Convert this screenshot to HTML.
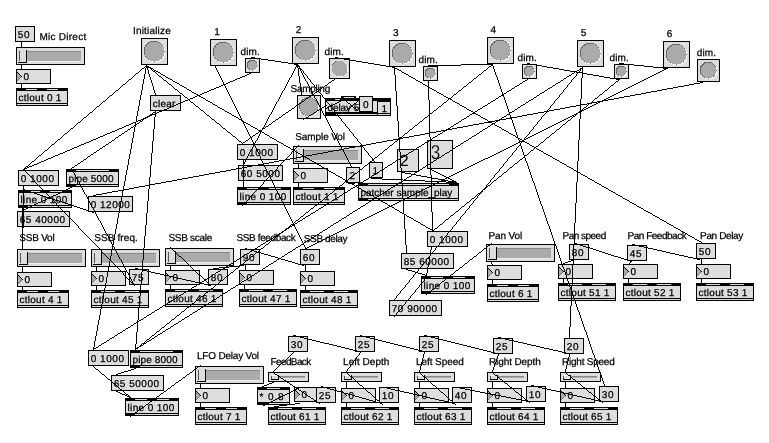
<!DOCTYPE html>
<html><head><meta charset="utf-8"><title>Max patch</title>
<style>
html,body{margin:0;padding:0;background:#fff;overflow:hidden;}
svg{display:block;}
text{font-family:"Liberation Sans",sans-serif;font-size:10px;fill:#000;stroke:#000;stroke-width:0.25px;text-rendering:geometricPrecision;}
svg{will-change:transform;}
</style></head><body>
<svg width="769" height="443" viewBox="0 0 769 443">
<rect width="769" height="443" fill="#fff"/>
<g shape-rendering="crispEdges">
<rect x="15" y="26" width="20" height="16" fill="#000"/>
<rect x="16" y="27" width="18" height="14" fill="#dddddd"/>
<text x="17.7" y="38" style="letter-spacing:0.778px;">50</text>
<text x="39.5" y="40" style="letter-spacing:0.251px;">Mic Direct</text>
<rect x="16" y="47" width="69" height="18" fill="#000"/>
<rect x="17" y="48" width="67" height="16" fill="#dddddd"/>
<rect x="20" y="51" width="61" height="10" fill="#aaaaaa"/>
<rect x="20" y="51" width="61" height="1" fill="#888"/>
<rect x="20" y="61" width="61" height="1" fill="#eee"/>
<rect x="18" y="50" width="9" height="13" fill="#000"/>
<rect x="18" y="50" width="8" height="12" fill="#dddddd"/>
<rect x="19" y="51" width="1" height="10" fill="#555"/>
<rect x="16" y="69" width="35" height="15" fill="#000"/>
<rect x="17" y="70" width="33" height="13" fill="#dddddd"/>
<polygon points="17,72 21.5,76.5 17,81" fill="#aaaaaa"/>
<line x1="17.5" y1="72.5" x2="21.5" y2="76.5" stroke="#000" stroke-linecap="square"/>
<line x1="20.5" y1="77.5" x2="17.5" y2="80.5" stroke="#777" stroke-linecap="square"/>
<text x="23.5" y="80">0</text>
<rect x="16" y="88" width="52" height="18" fill="#000"/>
<rect x="17" y="91" width="50" height="12" fill="#dddddd"/>
<rect x="17" y="104" width="50" height="1" fill="#dddddd"/>
<rect x="26" y="89" width="11" height="1" fill="#dddddd"/>
<rect x="47" y="89" width="11" height="1" fill="#dddddd"/>
<text x="18.5" y="101" style="letter-spacing:0.258px;">ctlout 0 1</text>
<text x="133" y="34" style="letter-spacing:0.175px;">Initialize</text>
<rect x="141" y="38" width="27" height="27" fill="#000"/>
<rect x="142" y="39" width="25" height="25" fill="#dddddd"/>
<circle cx="155.0" cy="52.0" r="10.5" fill="#fff"/>
<circle cx="154.1" cy="51.1" r="10.5" fill="#666"/>
<circle cx="154.5" cy="51.5" r="9.9" fill="#aaaaaa"/>
<rect x="150" y="95" width="31" height="16" fill="#000"/>
<rect x="151" y="96" width="29" height="14" fill="#dddddd"/>
<text x="152.7" y="107" style="letter-spacing:0.257px;">clear</text>
<text x="214.3" y="35">1</text>
<rect x="210" y="39" width="27" height="27" fill="#000"/>
<rect x="211" y="40" width="25" height="25" fill="#dddddd"/>
<circle cx="224.0" cy="53.0" r="10.5" fill="#fff"/>
<circle cx="223.1" cy="52.1" r="10.5" fill="#666"/>
<circle cx="223.5" cy="52.5" r="9.9" fill="#aaaaaa"/>
<text x="240.5" y="55" style="letter-spacing:0.103px;">dim.</text>
<rect x="245" y="58" width="15" height="15" fill="#000"/>
<rect x="246" y="59" width="13" height="13" fill="#dddddd"/>
<circle cx="253.0" cy="66.0" r="5.5" fill="#fff"/>
<circle cx="252.1" cy="65.1" r="5.5" fill="#666"/>
<circle cx="252.5" cy="65.5" r="4.9" fill="#aaaaaa"/>
<text x="295.7" y="33">2</text>
<rect x="292" y="37" width="27" height="27" fill="#000"/>
<rect x="293" y="38" width="25" height="25" fill="#dddddd"/>
<circle cx="306.0" cy="51.0" r="10.5" fill="#fff"/>
<circle cx="305.1" cy="50.1" r="10.5" fill="#666"/>
<circle cx="305.5" cy="50.5" r="9.9" fill="#aaaaaa"/>
<text x="324.5" y="55" style="letter-spacing:0.103px;">dim.</text>
<rect x="329" y="58" width="21" height="21" fill="#000"/>
<rect x="330" y="59" width="19" height="19" fill="#dddddd"/>
<polygon points="336.95,61.6 343.25,61.6 347.6,65.95 347.6,72.25 343.25,76.6 336.95,76.6 332.6,72.25 332.6,65.95" fill="#fff"/>
<polygon points="335.85,60.5 342.15,60.5 346.5,64.85 346.5,71.15 342.15,75.5 335.85,75.5 331.5,71.15 331.5,64.85" fill="#666"/>
<polygon points="336.55,61.2 342.85,61.2 347.2,65.55 347.2,71.85 342.85,76.2 336.55,76.2 332.2,71.85 332.2,65.55" fill="#aaaaaa"/>
<text x="393" y="35.5">3</text>
<rect x="389" y="40" width="27" height="27" fill="#000"/>
<rect x="390" y="41" width="25" height="25" fill="#dddddd"/>
<circle cx="403.0" cy="54.0" r="10.5" fill="#fff"/>
<circle cx="402.1" cy="53.1" r="10.5" fill="#666"/>
<circle cx="402.5" cy="53.5" r="9.9" fill="#aaaaaa"/>
<text x="418.5" y="62.8" style="letter-spacing:0.103px;">dim.</text>
<rect x="423" y="66" width="15" height="15" fill="#000"/>
<rect x="424" y="67" width="13" height="13" fill="#dddddd"/>
<circle cx="431.0" cy="74.0" r="5.5" fill="#fff"/>
<circle cx="430.1" cy="73.1" r="5.5" fill="#666"/>
<circle cx="430.5" cy="73.5" r="4.9" fill="#aaaaaa"/>
<text x="490.5" y="32.5">4</text>
<rect x="487" y="37" width="27" height="27" fill="#000"/>
<rect x="488" y="38" width="25" height="25" fill="#dddddd"/>
<circle cx="501.0" cy="51.0" r="10.5" fill="#fff"/>
<circle cx="500.1" cy="50.1" r="10.5" fill="#666"/>
<circle cx="500.5" cy="50.5" r="9.9" fill="#aaaaaa"/>
<text x="517.5" y="61" style="letter-spacing:0.103px;">dim.</text>
<rect x="522" y="64" width="15" height="15" fill="#000"/>
<rect x="523" y="65" width="13" height="13" fill="#dddddd"/>
<circle cx="530.0" cy="72.0" r="5.5" fill="#fff"/>
<circle cx="529.1" cy="71.1" r="5.5" fill="#666"/>
<circle cx="529.5" cy="71.5" r="4.9" fill="#aaaaaa"/>
<text x="580.8" y="35.6">5</text>
<rect x="577" y="40" width="27" height="27" fill="#000"/>
<rect x="578" y="41" width="25" height="25" fill="#dddddd"/>
<circle cx="591.0" cy="54.0" r="10.5" fill="#fff"/>
<circle cx="590.1" cy="53.1" r="10.5" fill="#666"/>
<circle cx="590.5" cy="53.5" r="9.9" fill="#aaaaaa"/>
<text x="609.5" y="61" style="letter-spacing:0.103px;">dim.</text>
<rect x="614" y="64" width="15" height="15" fill="#000"/>
<rect x="615" y="65" width="13" height="13" fill="#dddddd"/>
<circle cx="622.0" cy="72.0" r="5.5" fill="#fff"/>
<circle cx="621.1" cy="71.1" r="5.5" fill="#666"/>
<circle cx="621.5" cy="71.5" r="4.9" fill="#aaaaaa"/>
<text x="666.8" y="37">6</text>
<rect x="663" y="41" width="27" height="27" fill="#000"/>
<rect x="664" y="42" width="25" height="25" fill="#dddddd"/>
<circle cx="677.0" cy="55.0" r="10.5" fill="#fff"/>
<circle cx="676.1" cy="54.1" r="10.5" fill="#666"/>
<circle cx="676.5" cy="54.5" r="9.9" fill="#aaaaaa"/>
<text x="696.8" y="56" style="letter-spacing:0.103px;">dim.</text>
<rect x="697" y="59" width="23" height="23" fill="#000"/>
<rect x="698" y="60" width="21" height="21" fill="#dddddd"/>
<circle cx="709.0" cy="71.0" r="8.5" fill="#fff"/>
<circle cx="708.1" cy="70.1" r="8.5" fill="#666"/>
<circle cx="708.5" cy="70.5" r="7.9" fill="#aaaaaa"/>
<text x="290.5" y="91.5" style="letter-spacing:-0.284px;">Sampling</text>
<rect x="297" y="95" width="24" height="24" fill="#000"/>
<rect x="298" y="96" width="22" height="22" fill="#dddddd"/>
<circle cx="309.5" cy="107.5" r="9.6" fill="#fff"/>
<circle cx="308.6" cy="106.6" r="9.6" fill="#666"/>
<circle cx="309.0" cy="107.0" r="9.0" fill="#aaaaaa"/>
<rect x="325" y="98" width="66" height="18" fill="#000"/>
<rect x="341" y="96" width="15" height="2" fill="#000"/>
<rect x="344" y="97" width="10" height="1" fill="#dddddd"/>
<rect x="326" y="101" width="34" height="11" fill="#dddddd"/>
<rect x="373" y="101" width="4" height="11" fill="#dddddd"/>
<rect x="378" y="102" width="12" height="11" fill="#dddddd"/>
<rect x="335" y="99" width="5" height="1" fill="#dddddd"/>
<rect x="336" y="114" width="41" height="1" fill="#dddddd"/>
<rect x="378" y="114" width="12" height="1" fill="#dddddd"/>
<text x="327.5" y="110.5" style="letter-spacing:-0.091px;">delay 5</text>
<rect x="359" y="96" width="14" height="16" fill="#000"/>
<rect x="360" y="97" width="12" height="14" fill="#dddddd"/>
<text x="363" y="108">0</text>
<text x="381.5" y="111.5">1</text>
<rect x="18" y="170" width="41" height="16" fill="#000"/>
<rect x="19" y="171" width="39" height="14" fill="#dddddd"/>
<text x="20.7" y="182" style="letter-spacing:0.543px;">0 1000</text>
<rect x="66" y="169" width="53" height="18" fill="#000"/>
<rect x="67" y="172" width="51" height="12" fill="#dddddd"/>
<rect x="76" y="185" width="42" height="1" fill="#dddddd"/>
<rect x="76" y="170" width="33" height="1" fill="#dddddd"/>
<text x="68.5" y="182" style="letter-spacing:0.134px;">pipe 5000</text>
<rect x="18" y="190" width="54" height="18" fill="#000"/>
<rect x="19" y="193" width="52" height="12" fill="#dddddd"/>
<rect x="28" y="206" width="43" height="1" fill="#dddddd"/>
<rect x="28" y="191" width="12" height="1" fill="#dddddd"/>
<rect x="50" y="191" width="12" height="1" fill="#dddddd"/>
<text x="20.5" y="203" style="letter-spacing:0.370px;">line 0 100</text>
<rect x="88" y="196" width="45" height="16" fill="#000"/>
<rect x="89" y="197" width="43" height="14" fill="#dddddd"/>
<text x="90.7" y="208" style="letter-spacing:0.509px;">0 12000</text>
<rect x="17" y="211" width="53" height="16" fill="#000"/>
<rect x="18" y="212" width="51" height="14" fill="#dddddd"/>
<text x="19.7" y="223" style="letter-spacing:0.528px;">65 40000</text>
<rect x="237" y="144" width="41" height="16" fill="#000"/>
<rect x="238" y="145" width="39" height="14" fill="#dddddd"/>
<text x="239.7" y="156" style="letter-spacing:0.543px;">0 1000</text>
<rect x="238" y="165" width="45" height="16" fill="#000"/>
<rect x="239" y="166" width="43" height="14" fill="#dddddd"/>
<text x="240.7" y="177" style="letter-spacing:0.526px;">60 5000</text>
<rect x="237" y="187" width="54" height="18" fill="#000"/>
<rect x="238" y="190" width="52" height="12" fill="#dddddd"/>
<rect x="247" y="203" width="43" height="1" fill="#dddddd"/>
<rect x="247" y="188" width="12" height="1" fill="#dddddd"/>
<rect x="269" y="188" width="12" height="1" fill="#dddddd"/>
<text x="239.5" y="200" style="letter-spacing:0.370px;">line 0 100</text>
<text x="295.3" y="139.6" style="letter-spacing:-0.098px;">Sample Vol</text>
<rect x="293" y="146" width="69" height="18" fill="#000"/>
<rect x="294" y="147" width="67" height="16" fill="#dddddd"/>
<rect x="297" y="150" width="61" height="10" fill="#aaaaaa"/>
<rect x="297" y="150" width="61" height="1" fill="#888"/>
<rect x="297" y="160" width="61" height="1" fill="#eee"/>
<rect x="295" y="149" width="9" height="13" fill="#000"/>
<rect x="295" y="149" width="8" height="12" fill="#dddddd"/>
<rect x="296" y="150" width="1" height="10" fill="#555"/>
<rect x="293" y="168" width="35" height="15" fill="#000"/>
<rect x="294" y="169" width="33" height="13" fill="#dddddd"/>
<polygon points="294,171 298.5,175.5 294,180" fill="#aaaaaa"/>
<line x1="294.5" y1="171.5" x2="298.5" y2="175.5" stroke="#000" stroke-linecap="square"/>
<line x1="297.5" y1="176.5" x2="294.5" y2="179.5" stroke="#777" stroke-linecap="square"/>
<text x="300.5" y="179">0</text>
<rect x="293" y="187" width="52" height="18" fill="#000"/>
<rect x="294" y="190" width="50" height="12" fill="#dddddd"/>
<rect x="294" y="203" width="50" height="1" fill="#dddddd"/>
<rect x="303" y="188" width="11" height="1" fill="#dddddd"/>
<rect x="324" y="188" width="11" height="1" fill="#dddddd"/>
<text x="295.5" y="200" style="letter-spacing:0.258px;">ctlout 1 1</text>
<rect x="346" y="167" width="14" height="16" fill="#000"/>
<rect x="347" y="168" width="12" height="14" fill="#dddddd"/>
<text x="349.5" y="179">2</text>
<rect x="369" y="162" width="14" height="16" fill="#000"/>
<rect x="370" y="163" width="12" height="14" fill="#dddddd"/>
<text x="372.5" y="174">1</text>
<rect x="358" y="183" width="101" height="18" fill="#000"/>
<rect x="359" y="186" width="99" height="12" fill="#dddddd"/>
<rect x="368" y="199" width="90" height="1" fill="#dddddd"/>
<rect x="368" y="184" width="81" height="1" fill="#dddddd"/>
<text x="360.5" y="196" style="letter-spacing:-0.032px;">patcher sample_play</text>
<rect x="397" y="149" width="22" height="23" fill="#000"/>
<rect x="398" y="150" width="20" height="21" fill="#dddddd"/>
<text x="399.8" y="165.5" style="font-size:16px;stroke-width:0;">2</text>
<rect x="427" y="140" width="26" height="29" fill="#000"/>
<rect x="428" y="141" width="24" height="27" fill="#dddddd"/>
<text transform="translate(430.8 159.2) scale(0.85 1)" style="font-size:20px;stroke-width:0.25;stroke:#dddddd;">3</text>
<text x="19.2" y="240.6" style="letter-spacing:-0.198px;">SSB Vol</text>
<rect x="17" y="249" width="69" height="18" fill="#000"/>
<rect x="18" y="250" width="67" height="16" fill="#dddddd"/>
<rect x="21" y="253" width="61" height="10" fill="#aaaaaa"/>
<rect x="21" y="253" width="61" height="1" fill="#888"/>
<rect x="21" y="263" width="61" height="1" fill="#eee"/>
<rect x="19" y="252" width="9" height="13" fill="#000"/>
<rect x="19" y="252" width="8" height="12" fill="#dddddd"/>
<rect x="20" y="253" width="1" height="10" fill="#555"/>
<rect x="17" y="272" width="35" height="15" fill="#000"/>
<rect x="18" y="273" width="33" height="13" fill="#dddddd"/>
<polygon points="18,275 22.5,279.5 18,284" fill="#aaaaaa"/>
<line x1="18.5" y1="275.5" x2="22.5" y2="279.5" stroke="#000" stroke-linecap="square"/>
<line x1="21.5" y1="280.5" x2="18.5" y2="283.5" stroke="#777" stroke-linecap="square"/>
<text x="24.5" y="283">0</text>
<rect x="17" y="290" width="52" height="18" fill="#000"/>
<rect x="18" y="293" width="50" height="12" fill="#dddddd"/>
<rect x="18" y="306" width="50" height="1" fill="#dddddd"/>
<rect x="27" y="291" width="11" height="1" fill="#dddddd"/>
<rect x="48" y="291" width="11" height="1" fill="#dddddd"/>
<text x="19.5" y="303" style="letter-spacing:0.258px;">ctlout 4 1</text>
<text x="94.2" y="241" style="letter-spacing:0.113px;">SSB freq.</text>
<rect x="91" y="249" width="69" height="18" fill="#000"/>
<rect x="92" y="250" width="67" height="16" fill="#dddddd"/>
<rect x="95" y="253" width="61" height="10" fill="#aaaaaa"/>
<rect x="95" y="253" width="61" height="1" fill="#888"/>
<rect x="95" y="263" width="61" height="1" fill="#eee"/>
<rect x="93" y="252" width="9" height="13" fill="#000"/>
<rect x="93" y="252" width="8" height="12" fill="#dddddd"/>
<rect x="94" y="253" width="1" height="10" fill="#555"/>
<rect x="91" y="271" width="35" height="15" fill="#000"/>
<rect x="92" y="272" width="33" height="13" fill="#dddddd"/>
<polygon points="92,274 96.5,278.5 92,283" fill="#aaaaaa"/>
<line x1="92.5" y1="274.5" x2="96.5" y2="278.5" stroke="#000" stroke-linecap="square"/>
<line x1="95.5" y1="279.5" x2="92.5" y2="282.5" stroke="#777" stroke-linecap="square"/>
<text x="98.5" y="282">0</text>
<rect x="129" y="269" width="20" height="16" fill="#000"/>
<rect x="130" y="270" width="18" height="14" fill="#dddddd"/>
<text x="131.7" y="281" style="letter-spacing:0.778px;">75</text>
<rect x="91" y="290" width="58" height="18" fill="#000"/>
<rect x="92" y="293" width="56" height="12" fill="#dddddd"/>
<rect x="92" y="306" width="56" height="1" fill="#dddddd"/>
<rect x="101" y="291" width="14" height="1" fill="#dddddd"/>
<rect x="125" y="291" width="14" height="1" fill="#dddddd"/>
<text x="93.5" y="303" style="letter-spacing:0.276px;">ctlout 45 1</text>
<text x="168.5" y="240.6" style="letter-spacing:-0.304px;">SSB scale</text>
<rect x="165" y="248" width="69" height="18" fill="#000"/>
<rect x="166" y="249" width="67" height="16" fill="#dddddd"/>
<rect x="169" y="252" width="61" height="10" fill="#aaaaaa"/>
<rect x="169" y="252" width="61" height="1" fill="#888"/>
<rect x="169" y="262" width="61" height="1" fill="#eee"/>
<rect x="167" y="251" width="9" height="13" fill="#000"/>
<rect x="167" y="251" width="8" height="12" fill="#dddddd"/>
<rect x="168" y="252" width="1" height="10" fill="#555"/>
<rect x="165" y="270" width="35" height="15" fill="#000"/>
<rect x="166" y="271" width="33" height="13" fill="#dddddd"/>
<polygon points="166,273 170.5,277.5 166,282" fill="#aaaaaa"/>
<line x1="166.5" y1="273.5" x2="170.5" y2="277.5" stroke="#000" stroke-linecap="square"/>
<line x1="169.5" y1="278.5" x2="166.5" y2="281.5" stroke="#777" stroke-linecap="square"/>
<text x="172.5" y="281">0</text>
<rect x="208" y="269" width="20" height="16" fill="#000"/>
<rect x="209" y="270" width="18" height="14" fill="#dddddd"/>
<text x="210.7" y="281" style="letter-spacing:0.778px;">80</text>
<rect x="165" y="289" width="58" height="18" fill="#000"/>
<rect x="166" y="292" width="56" height="12" fill="#dddddd"/>
<rect x="166" y="305" width="56" height="1" fill="#dddddd"/>
<rect x="175" y="290" width="14" height="1" fill="#dddddd"/>
<rect x="199" y="290" width="14" height="1" fill="#dddddd"/>
<text x="167.5" y="302" style="letter-spacing:0.276px;">ctlout 46 1</text>
<text x="236.5" y="240.6" style="letter-spacing:-0.379px;">SSB feedback</text>
<rect x="240" y="249" width="20" height="16" fill="#000"/>
<rect x="241" y="250" width="18" height="14" fill="#dddddd"/>
<text x="242.7" y="261" style="letter-spacing:0.778px;">90</text>
<rect x="239" y="270" width="35" height="15" fill="#000"/>
<rect x="240" y="271" width="33" height="13" fill="#dddddd"/>
<polygon points="240,273 244.5,277.5 240,282" fill="#aaaaaa"/>
<line x1="240.5" y1="273.5" x2="244.5" y2="277.5" stroke="#000" stroke-linecap="square"/>
<line x1="243.5" y1="278.5" x2="240.5" y2="281.5" stroke="#777" stroke-linecap="square"/>
<text x="246.5" y="281">0</text>
<rect x="239" y="289" width="58" height="18" fill="#000"/>
<rect x="240" y="292" width="56" height="12" fill="#dddddd"/>
<rect x="240" y="305" width="56" height="1" fill="#dddddd"/>
<rect x="249" y="290" width="14" height="1" fill="#dddddd"/>
<rect x="273" y="290" width="14" height="1" fill="#dddddd"/>
<text x="241.5" y="302" style="letter-spacing:0.276px;">ctlout 47 1</text>
<text x="303.8" y="241.5" style="letter-spacing:-0.374px;">SSB delay</text>
<rect x="300" y="249" width="20" height="16" fill="#000"/>
<rect x="301" y="250" width="18" height="14" fill="#dddddd"/>
<text x="302.7" y="261" style="letter-spacing:0.778px;">60</text>
<rect x="300" y="271" width="35" height="15" fill="#000"/>
<rect x="301" y="272" width="33" height="13" fill="#dddddd"/>
<polygon points="301,274 305.5,278.5 301,283" fill="#aaaaaa"/>
<line x1="301.5" y1="274.5" x2="305.5" y2="278.5" stroke="#000" stroke-linecap="square"/>
<line x1="304.5" y1="279.5" x2="301.5" y2="282.5" stroke="#777" stroke-linecap="square"/>
<text x="307.5" y="282">0</text>
<rect x="300" y="290" width="58" height="18" fill="#000"/>
<rect x="301" y="293" width="56" height="12" fill="#dddddd"/>
<rect x="301" y="306" width="56" height="1" fill="#dddddd"/>
<rect x="310" y="291" width="14" height="1" fill="#dddddd"/>
<rect x="334" y="291" width="14" height="1" fill="#dddddd"/>
<text x="302.5" y="303" style="letter-spacing:0.276px;">ctlout 48 1</text>
<rect x="427" y="231" width="41" height="16" fill="#000"/>
<rect x="428" y="232" width="39" height="14" fill="#dddddd"/>
<text x="429.7" y="243" style="letter-spacing:0.543px;">0 1000</text>
<rect x="401" y="253" width="53" height="16" fill="#000"/>
<rect x="402" y="254" width="51" height="14" fill="#dddddd"/>
<text x="403.7" y="265" style="letter-spacing:0.528px;">85 60000</text>
<rect x="421" y="276" width="54" height="18" fill="#000"/>
<rect x="422" y="279" width="52" height="12" fill="#dddddd"/>
<rect x="431" y="292" width="43" height="1" fill="#dddddd"/>
<rect x="431" y="277" width="12" height="1" fill="#dddddd"/>
<rect x="453" y="277" width="12" height="1" fill="#dddddd"/>
<text x="423.5" y="289" style="letter-spacing:0.370px;">line 0 100</text>
<rect x="389" y="300" width="53" height="16" fill="#000"/>
<rect x="390" y="301" width="51" height="14" fill="#dddddd"/>
<text x="391.7" y="312" style="letter-spacing:0.528px;">70 90000</text>
<text x="488.5" y="238.6" style="letter-spacing:-0.129px;">Pan Vol</text>
<rect x="486" y="244" width="69" height="18" fill="#000"/>
<rect x="487" y="245" width="67" height="16" fill="#dddddd"/>
<rect x="490" y="248" width="61" height="10" fill="#aaaaaa"/>
<rect x="490" y="248" width="61" height="1" fill="#888"/>
<rect x="490" y="258" width="61" height="1" fill="#eee"/>
<rect x="488" y="247" width="9" height="13" fill="#000"/>
<rect x="488" y="247" width="8" height="12" fill="#dddddd"/>
<rect x="489" y="248" width="1" height="10" fill="#555"/>
<rect x="487" y="265" width="35" height="15" fill="#000"/>
<rect x="488" y="266" width="33" height="13" fill="#dddddd"/>
<polygon points="488,268 492.5,272.5 488,277" fill="#aaaaaa"/>
<line x1="488.5" y1="268.5" x2="492.5" y2="272.5" stroke="#000" stroke-linecap="square"/>
<line x1="491.5" y1="273.5" x2="488.5" y2="276.5" stroke="#777" stroke-linecap="square"/>
<text x="494.5" y="276">0</text>
<rect x="487" y="284" width="52" height="18" fill="#000"/>
<rect x="488" y="287" width="50" height="12" fill="#dddddd"/>
<rect x="488" y="300" width="50" height="1" fill="#dddddd"/>
<rect x="497" y="285" width="11" height="1" fill="#dddddd"/>
<rect x="518" y="285" width="11" height="1" fill="#dddddd"/>
<text x="489.5" y="297" style="letter-spacing:0.258px;">ctlout 6 1</text>
<text x="562.5" y="238.6" style="letter-spacing:-0.514px;">Pan speed</text>
<rect x="569" y="244" width="20" height="16" fill="#000"/>
<rect x="570" y="245" width="18" height="14" fill="#dddddd"/>
<text x="571.7" y="256" style="letter-spacing:0.778px;">80</text>
<rect x="558" y="264" width="35" height="15" fill="#000"/>
<rect x="559" y="265" width="33" height="13" fill="#dddddd"/>
<polygon points="559,267 563.5,271.5 559,276" fill="#aaaaaa"/>
<line x1="559.5" y1="267.5" x2="563.5" y2="271.5" stroke="#000" stroke-linecap="square"/>
<line x1="562.5" y1="272.5" x2="559.5" y2="275.5" stroke="#777" stroke-linecap="square"/>
<text x="565.5" y="275">0</text>
<rect x="558" y="283" width="58" height="18" fill="#000"/>
<rect x="559" y="286" width="56" height="12" fill="#dddddd"/>
<rect x="559" y="299" width="56" height="1" fill="#dddddd"/>
<rect x="568" y="284" width="14" height="1" fill="#dddddd"/>
<rect x="592" y="284" width="14" height="1" fill="#dddddd"/>
<text x="560.5" y="296" style="letter-spacing:0.276px;">ctlout 51 1</text>
<text x="627.5" y="238.6" style="letter-spacing:-0.480px;">Pan Feedback</text>
<rect x="627" y="245" width="20" height="16" fill="#000"/>
<rect x="628" y="246" width="18" height="14" fill="#dddddd"/>
<text x="629.7" y="257" style="letter-spacing:0.778px;">45</text>
<rect x="623" y="264" width="35" height="15" fill="#000"/>
<rect x="624" y="265" width="33" height="13" fill="#dddddd"/>
<polygon points="624,267 628.5,271.5 624,276" fill="#aaaaaa"/>
<line x1="624.5" y1="267.5" x2="628.5" y2="271.5" stroke="#000" stroke-linecap="square"/>
<line x1="627.5" y1="272.5" x2="624.5" y2="275.5" stroke="#777" stroke-linecap="square"/>
<text x="630.5" y="275">0</text>
<rect x="623" y="283" width="58" height="18" fill="#000"/>
<rect x="624" y="286" width="56" height="12" fill="#dddddd"/>
<rect x="624" y="299" width="56" height="1" fill="#dddddd"/>
<rect x="633" y="284" width="14" height="1" fill="#dddddd"/>
<rect x="657" y="284" width="14" height="1" fill="#dddddd"/>
<text x="625.5" y="296" style="letter-spacing:0.276px;">ctlout 52 1</text>
<text x="700.1" y="238.6" style="letter-spacing:-0.367px;">Pan Delay</text>
<rect x="696" y="243" width="20" height="16" fill="#000"/>
<rect x="697" y="244" width="18" height="14" fill="#dddddd"/>
<text x="698.7" y="255" style="letter-spacing:0.778px;">50</text>
<rect x="696" y="264" width="35" height="15" fill="#000"/>
<rect x="697" y="265" width="33" height="13" fill="#dddddd"/>
<polygon points="697,267 701.5,271.5 697,276" fill="#aaaaaa"/>
<line x1="697.5" y1="267.5" x2="701.5" y2="271.5" stroke="#000" stroke-linecap="square"/>
<line x1="700.5" y1="272.5" x2="697.5" y2="275.5" stroke="#777" stroke-linecap="square"/>
<text x="703.5" y="275">0</text>
<rect x="696" y="283" width="58" height="18" fill="#000"/>
<rect x="697" y="286" width="56" height="12" fill="#dddddd"/>
<rect x="697" y="299" width="56" height="1" fill="#dddddd"/>
<rect x="706" y="284" width="14" height="1" fill="#dddddd"/>
<rect x="730" y="284" width="14" height="1" fill="#dddddd"/>
<text x="698.5" y="296" style="letter-spacing:0.276px;">ctlout 53 1</text>
<rect x="88" y="350" width="41" height="16" fill="#000"/>
<rect x="89" y="351" width="39" height="14" fill="#dddddd"/>
<text x="90.7" y="362" style="letter-spacing:0.543px;">0 1000</text>
<rect x="130" y="350" width="53" height="18" fill="#000"/>
<rect x="131" y="353" width="51" height="12" fill="#dddddd"/>
<rect x="140" y="366" width="42" height="1" fill="#dddddd"/>
<rect x="140" y="351" width="33" height="1" fill="#dddddd"/>
<text x="132.5" y="363" style="letter-spacing:0.134px;">pipe 8000</text>
<rect x="111" y="375" width="53" height="16" fill="#000"/>
<rect x="112" y="376" width="51" height="14" fill="#dddddd"/>
<text x="113.7" y="387" style="letter-spacing:0.528px;">65 50000</text>
<rect x="125" y="398" width="54" height="18" fill="#000"/>
<rect x="126" y="401" width="52" height="12" fill="#dddddd"/>
<rect x="135" y="414" width="43" height="1" fill="#dddddd"/>
<rect x="135" y="399" width="12" height="1" fill="#dddddd"/>
<rect x="157" y="399" width="12" height="1" fill="#dddddd"/>
<text x="127.5" y="411" style="letter-spacing:0.370px;">line 0 100</text>
<text x="197" y="358.8" style="letter-spacing:-0.206px;">LFO Delay Vol</text>
<rect x="195" y="366" width="69" height="18" fill="#000"/>
<rect x="196" y="367" width="67" height="16" fill="#dddddd"/>
<rect x="199" y="370" width="61" height="10" fill="#aaaaaa"/>
<rect x="199" y="370" width="61" height="1" fill="#888"/>
<rect x="199" y="380" width="61" height="1" fill="#eee"/>
<rect x="197" y="369" width="9" height="13" fill="#000"/>
<rect x="197" y="369" width="8" height="12" fill="#dddddd"/>
<rect x="198" y="370" width="1" height="10" fill="#555"/>
<rect x="195" y="388" width="35" height="15" fill="#000"/>
<rect x="196" y="389" width="33" height="13" fill="#dddddd"/>
<polygon points="196,391 200.5,395.5 196,400" fill="#aaaaaa"/>
<line x1="196.5" y1="391.5" x2="200.5" y2="395.5" stroke="#000" stroke-linecap="square"/>
<line x1="199.5" y1="396.5" x2="196.5" y2="399.5" stroke="#777" stroke-linecap="square"/>
<text x="202.5" y="399">0</text>
<rect x="195" y="407" width="52" height="18" fill="#000"/>
<rect x="196" y="410" width="50" height="12" fill="#dddddd"/>
<rect x="196" y="423" width="50" height="1" fill="#dddddd"/>
<rect x="205" y="408" width="11" height="1" fill="#dddddd"/>
<rect x="226" y="408" width="11" height="1" fill="#dddddd"/>
<text x="197.5" y="420" style="letter-spacing:0.258px;">ctlout 7 1</text>
<rect x="288" y="336" width="20" height="16" fill="#000"/>
<rect x="289" y="337" width="18" height="14" fill="#dddddd"/>
<text x="290.7" y="348" style="letter-spacing:0.778px;">30</text>
<text x="270.5" y="365" style="letter-spacing:-0.617px;">FeedBack</text>
<rect x="268" y="372" width="41" height="10" fill="#000"/>
<rect x="269" y="373" width="39" height="8" fill="#dddddd"/>
<rect x="279" y="376" width="26" height="1" fill="#888"/>
<rect x="279" y="377" width="26" height="1" fill="#aaaaaa"/>
<rect x="271" y="375" width="8" height="5" fill="#000"/>
<rect x="271" y="375" width="7" height="4" fill="#dddddd"/>
<rect x="272" y="375" width="6" height="1" fill="#fff"/>
<rect x="271" y="376" width="1" height="3" fill="#555"/>
<rect x="257" y="387" width="33" height="18" fill="#000"/>
<rect x="258" y="390" width="31" height="12" fill="#dddddd"/>
<rect x="267" y="403" width="22" height="1" fill="#dddddd"/>
<rect x="267" y="388" width="13" height="1" fill="#dddddd"/>
<text x="259.5" y="400" style="letter-spacing:0.882px;">* 0.8</text>
<rect x="294" y="387" width="23" height="15" fill="#000"/>
<rect x="295" y="388" width="21" height="13" fill="#dddddd"/>
<polygon points="295,390 299.5,394.5 295,399" fill="#aaaaaa"/>
<line x1="295.5" y1="390.5" x2="299.5" y2="394.5" stroke="#000" stroke-linecap="square"/>
<line x1="298.5" y1="395.5" x2="295.5" y2="398.5" stroke="#777" stroke-linecap="square"/>
<text x="301.5" y="398">0</text>
<rect x="316" y="387" width="20" height="16" fill="#000"/>
<rect x="317" y="388" width="18" height="14" fill="#dddddd"/>
<text x="318.7" y="399" style="letter-spacing:0.778px;">25</text>
<rect x="268" y="407" width="58" height="18" fill="#000"/>
<rect x="269" y="410" width="56" height="12" fill="#dddddd"/>
<rect x="269" y="423" width="56" height="1" fill="#dddddd"/>
<rect x="278" y="408" width="14" height="1" fill="#dddddd"/>
<rect x="302" y="408" width="14" height="1" fill="#dddddd"/>
<text x="270.5" y="420" style="letter-spacing:0.276px;">ctlout 61 1</text>
<rect x="355" y="336" width="20" height="16" fill="#000"/>
<rect x="356" y="337" width="18" height="14" fill="#dddddd"/>
<text x="357.7" y="348" style="letter-spacing:0.778px;">25</text>
<text x="343.1" y="365" style="letter-spacing:0.007px;">Left Depth</text>
<rect x="341" y="372" width="41" height="10" fill="#000"/>
<rect x="342" y="373" width="39" height="8" fill="#dddddd"/>
<rect x="352" y="376" width="26" height="1" fill="#888"/>
<rect x="352" y="377" width="26" height="1" fill="#aaaaaa"/>
<rect x="344" y="375" width="8" height="5" fill="#000"/>
<rect x="344" y="375" width="7" height="4" fill="#dddddd"/>
<rect x="345" y="375" width="6" height="1" fill="#fff"/>
<rect x="344" y="376" width="1" height="3" fill="#555"/>
<rect x="341" y="388" width="35" height="15" fill="#000"/>
<rect x="342" y="389" width="33" height="13" fill="#dddddd"/>
<polygon points="342,391 346.5,395.5 342,400" fill="#aaaaaa"/>
<line x1="342.5" y1="391.5" x2="346.5" y2="395.5" stroke="#000" stroke-linecap="square"/>
<line x1="345.5" y1="396.5" x2="342.5" y2="399.5" stroke="#777" stroke-linecap="square"/>
<text x="348.5" y="399">0</text>
<rect x="379" y="387" width="20" height="16" fill="#000"/>
<rect x="380" y="388" width="18" height="14" fill="#dddddd"/>
<text x="381.7" y="399" style="letter-spacing:0.778px;">10</text>
<rect x="341" y="407" width="58" height="18" fill="#000"/>
<rect x="342" y="410" width="56" height="12" fill="#dddddd"/>
<rect x="342" y="423" width="56" height="1" fill="#dddddd"/>
<rect x="351" y="408" width="14" height="1" fill="#dddddd"/>
<rect x="375" y="408" width="14" height="1" fill="#dddddd"/>
<text x="343.5" y="420" style="letter-spacing:0.276px;">ctlout 62 1</text>
<rect x="419" y="336" width="20" height="16" fill="#000"/>
<rect x="420" y="337" width="18" height="14" fill="#dddddd"/>
<text x="421.7" y="348" style="letter-spacing:0.778px;">25</text>
<text x="416" y="365" style="letter-spacing:-0.074px;">Left Speed</text>
<rect x="414" y="372" width="41" height="10" fill="#000"/>
<rect x="415" y="373" width="39" height="8" fill="#dddddd"/>
<rect x="425" y="376" width="26" height="1" fill="#888"/>
<rect x="425" y="377" width="26" height="1" fill="#aaaaaa"/>
<rect x="417" y="375" width="8" height="5" fill="#000"/>
<rect x="417" y="375" width="7" height="4" fill="#dddddd"/>
<rect x="418" y="375" width="6" height="1" fill="#fff"/>
<rect x="417" y="376" width="1" height="3" fill="#555"/>
<rect x="414" y="388" width="35" height="15" fill="#000"/>
<rect x="415" y="389" width="33" height="13" fill="#dddddd"/>
<polygon points="415,391 419.5,395.5 415,400" fill="#aaaaaa"/>
<line x1="415.5" y1="391.5" x2="419.5" y2="395.5" stroke="#000" stroke-linecap="square"/>
<line x1="418.5" y1="396.5" x2="415.5" y2="399.5" stroke="#777" stroke-linecap="square"/>
<text x="421.5" y="399">0</text>
<rect x="452" y="387" width="20" height="16" fill="#000"/>
<rect x="453" y="388" width="18" height="14" fill="#dddddd"/>
<text x="454.7" y="399" style="letter-spacing:0.778px;">40</text>
<rect x="414" y="407" width="58" height="18" fill="#000"/>
<rect x="415" y="410" width="56" height="12" fill="#dddddd"/>
<rect x="415" y="423" width="56" height="1" fill="#dddddd"/>
<rect x="424" y="408" width="14" height="1" fill="#dddddd"/>
<rect x="448" y="408" width="14" height="1" fill="#dddddd"/>
<text x="416.5" y="420" style="letter-spacing:0.276px;">ctlout 63 1</text>
<rect x="493" y="338" width="20" height="16" fill="#000"/>
<rect x="494" y="339" width="18" height="14" fill="#dddddd"/>
<text x="495.7" y="350" style="letter-spacing:0.778px;">25</text>
<text x="489" y="365" style="letter-spacing:-0.110px;">Right Depth</text>
<rect x="487" y="372" width="41" height="10" fill="#000"/>
<rect x="488" y="373" width="39" height="8" fill="#dddddd"/>
<rect x="498" y="376" width="26" height="1" fill="#888"/>
<rect x="498" y="377" width="26" height="1" fill="#aaaaaa"/>
<rect x="490" y="375" width="8" height="5" fill="#000"/>
<rect x="490" y="375" width="7" height="4" fill="#dddddd"/>
<rect x="491" y="375" width="6" height="1" fill="#fff"/>
<rect x="490" y="376" width="1" height="3" fill="#555"/>
<rect x="487" y="388" width="35" height="15" fill="#000"/>
<rect x="488" y="389" width="33" height="13" fill="#dddddd"/>
<polygon points="488,391 492.5,395.5 488,400" fill="#aaaaaa"/>
<line x1="488.5" y1="391.5" x2="492.5" y2="395.5" stroke="#000" stroke-linecap="square"/>
<line x1="491.5" y1="396.5" x2="488.5" y2="399.5" stroke="#777" stroke-linecap="square"/>
<text x="494.5" y="399">0</text>
<rect x="526" y="386" width="20" height="16" fill="#000"/>
<rect x="527" y="387" width="18" height="14" fill="#dddddd"/>
<text x="528.7" y="398" style="letter-spacing:0.778px;">10</text>
<rect x="487" y="407" width="58" height="18" fill="#000"/>
<rect x="488" y="410" width="56" height="12" fill="#dddddd"/>
<rect x="488" y="423" width="56" height="1" fill="#dddddd"/>
<rect x="497" y="408" width="14" height="1" fill="#dddddd"/>
<rect x="521" y="408" width="14" height="1" fill="#dddddd"/>
<text x="489.5" y="420" style="letter-spacing:0.276px;">ctlout 64 1</text>
<rect x="564" y="338" width="20" height="16" fill="#000"/>
<rect x="565" y="339" width="18" height="14" fill="#dddddd"/>
<text x="566.7" y="350" style="letter-spacing:0.778px;">20</text>
<text x="562" y="365" style="letter-spacing:-0.234px;">Right Speed</text>
<rect x="560" y="372" width="41" height="10" fill="#000"/>
<rect x="561" y="373" width="39" height="8" fill="#dddddd"/>
<rect x="571" y="376" width="26" height="1" fill="#888"/>
<rect x="571" y="377" width="26" height="1" fill="#aaaaaa"/>
<rect x="563" y="375" width="8" height="5" fill="#000"/>
<rect x="563" y="375" width="7" height="4" fill="#dddddd"/>
<rect x="564" y="375" width="6" height="1" fill="#fff"/>
<rect x="563" y="376" width="1" height="3" fill="#555"/>
<rect x="560" y="388" width="35" height="15" fill="#000"/>
<rect x="561" y="389" width="33" height="13" fill="#dddddd"/>
<polygon points="561,391 565.5,395.5 561,400" fill="#aaaaaa"/>
<line x1="561.5" y1="391.5" x2="565.5" y2="395.5" stroke="#000" stroke-linecap="square"/>
<line x1="564.5" y1="396.5" x2="561.5" y2="399.5" stroke="#777" stroke-linecap="square"/>
<text x="567.5" y="399">0</text>
<rect x="599" y="386" width="20" height="16" fill="#000"/>
<rect x="600" y="387" width="18" height="14" fill="#dddddd"/>
<text x="601.7" y="398" style="letter-spacing:0.778px;">30</text>
<rect x="560" y="407" width="58" height="18" fill="#000"/>
<rect x="561" y="410" width="56" height="12" fill="#dddddd"/>
<rect x="561" y="423" width="56" height="1" fill="#dddddd"/>
<rect x="570" y="408" width="14" height="1" fill="#dddddd"/>
<rect x="594" y="408" width="14" height="1" fill="#dddddd"/>
<text x="562.5" y="420" style="letter-spacing:0.276px;">ctlout 65 1</text>
</g>
<g stroke="#000" stroke-width="1" fill="none" shape-rendering="crispEdges">
<path d="M23 169.5h1M24 168.5h1M25 167.5h1M26 166.5h2M28 165.5h1M29 164.5h1M30 163.5h1M31 162.5h1M32 161.5h2M34 160.5h1M35 159.5h1M36 158.5h1M37 157.5h1M38 156.5h1M39 155.5h2M41 154.5h1M42 153.5h1M43 152.5h1M44 151.5h1M45 150.5h2M47 149.5h1M48 148.5h1M49 147.5h1M50 146.5h1M51 145.5h1M52 144.5h2M54 143.5h1M55 142.5h1M56 141.5h1M57 140.5h1M58 139.5h2M60 138.5h1M61 137.5h1M62 136.5h1M63 135.5h1M64 134.5h1M65 133.5h2M67 132.5h1M68 131.5h1M69 130.5h1M70 129.5h1M71 128.5h2M73 127.5h1M74 126.5h1M75 125.5h1M76 124.5h1M77 123.5h1M78 122.5h2M80 121.5h1M81 120.5h1M82 119.5h1M83 118.5h1M84 117.5h2M86 116.5h1M87 115.5h1M88 114.5h1M89 113.5h1M90 112.5h2M92 111.5h1M93 110.5h1M94 109.5h1M95 108.5h1M96 107.5h1M97 106.5h2M99 105.5h1M100 104.5h1M101 103.5h1M102 102.5h1M103 101.5h2M105 100.5h1M106 99.5h1M107 98.5h1M108 97.5h1M109 96.5h1M110 95.5h2M112 94.5h1M113 93.5h1M114 92.5h1M115 91.5h1M116 90.5h2M118 89.5h1M119 88.5h1M120 87.5h1M121 86.5h1M122 85.5h1M123 84.5h2M125 83.5h1M126 82.5h1M127 81.5h1M128 80.5h1M129 79.5h2M131 78.5h1M132 77.5h1M133 76.5h1M134 75.5h1M135 74.5h1M136 73.5h2M138 72.5h1M139 71.5h1M140 70.5h1M141 69.5h1M142 68.5h2M144 67.5h1M145 66.5h1M146 65.5h1"/>
<path d="M146.5 65v3M145.5 68v6M144.5 74v5M143.5 79v5M142.5 84v6M141.5 90v5M140.5 95v5M139.5 100v6M138.5 106v5M137.5 111v5M136.5 116v6M135.5 122v5M134.5 127v5M133.5 132v6M132.5 138v5M131.5 143v6M130.5 149v5M129.5 154v5M128.5 159v6M127.5 165v5M126.5 170v5M125.5 175v6M124.5 181v5M123.5 186v5M122.5 191v6M121.5 197v5M120.5 202v6M119.5 208v5M118.5 213v5M117.5 218v6M116.5 224v5M115.5 229v5M114.5 234v6M113.5 240v5M112.5 245v5M111.5 250v6M110.5 256v5M109.5 261v5M108.5 266v6M107.5 272v5M106.5 277v6M105.5 283v5M104.5 288v5M103.5 293v6M102.5 299v5M101.5 304v5M100.5 309v6M99.5 315v5M98.5 320v5M97.5 325v6M96.5 331v5M95.5 336v5M94.5 341v6M93.5 347v3"/>
<path d="M146.5 65v2M147.5 67v3M148.5 70v4M149.5 74v3M150.5 77v3M151.5 80v3M152.5 83v3M153.5 86v4M154.5 90v3M155.5 93v2"/>
<path d="M146 65.5h1M147 66.5h1M148 67.5h2M150 68.5h1M151 69.5h1M152 70.5h1M153 71.5h2M155 72.5h1M156 73.5h1M157 74.5h1M158 75.5h1M159 76.5h2M161 77.5h1M162 78.5h1M163 79.5h1M164 80.5h2M166 81.5h1M167 82.5h1M168 83.5h1M169 84.5h2M171 85.5h1M172 86.5h1M173 87.5h1M174 88.5h1M175 89.5h2M177 90.5h1M178 91.5h1M179 92.5h1M180 93.5h2M182 94.5h1M183 95.5h1M184 96.5h1M185 97.5h2M187 98.5h1M188 99.5h1M189 100.5h1M190 101.5h1M191 102.5h2M193 103.5h1M194 104.5h1M195 105.5h1M196 106.5h2M198 107.5h1M199 108.5h1M200 109.5h1M201 110.5h2M203 111.5h1M204 112.5h1M205 113.5h1M206 114.5h1M207 115.5h2M209 116.5h1M210 117.5h1M211 118.5h1M212 119.5h2M214 120.5h1M215 121.5h1M216 122.5h1M217 123.5h2M219 124.5h1M220 125.5h1M221 126.5h1M222 127.5h1M223 128.5h2M225 129.5h1M226 130.5h1M227 131.5h1M228 132.5h2M230 133.5h1M231 134.5h1M232 135.5h1M233 136.5h2M235 137.5h1M236 138.5h1M237 139.5h1M238 140.5h1M239 141.5h2M241 142.5h1M242 143.5h1"/>
<path d="M146 65.5h1M147 66.5h2M149 67.5h2M151 68.5h2M153 69.5h1M154 70.5h2M156 71.5h2M158 72.5h2M160 73.5h1M161 74.5h2M163 75.5h2M165 76.5h1M166 77.5h2M168 78.5h2M170 79.5h2M172 80.5h1M173 81.5h2M175 82.5h2M177 83.5h2M179 84.5h1M180 85.5h2M182 86.5h2M184 87.5h2M186 88.5h1M187 89.5h2M189 90.5h2M191 91.5h1M192 92.5h2M194 93.5h2M196 94.5h2M198 95.5h1M199 96.5h2M201 97.5h2M203 98.5h2M205 99.5h1M206 100.5h2M208 101.5h2M210 102.5h2M212 103.5h1M213 104.5h2M215 105.5h2M217 106.5h1M218 107.5h2M220 108.5h2M222 109.5h2M224 110.5h1M225 111.5h2M227 112.5h2M229 113.5h2M231 114.5h1M232 115.5h2M234 116.5h2M236 117.5h2M238 118.5h1M239 119.5h2M241 120.5h2M243 121.5h1M244 122.5h2M246 123.5h2M248 124.5h2M250 125.5h1M251 126.5h2M253 127.5h2M255 128.5h2M257 129.5h1M258 130.5h2M260 131.5h2M262 132.5h2M264 133.5h1M265 134.5h2M267 135.5h2M269 136.5h1M270 137.5h2M272 138.5h2M274 139.5h2M276 140.5h1M277 141.5h2M279 142.5h2M281 143.5h2M283 144.5h1M284 145.5h2M286 146.5h2M288 147.5h2M290 148.5h1M291 149.5h2M293 150.5h2M295 151.5h1M296 152.5h2M298 153.5h2M300 154.5h2M302 155.5h1M303 156.5h2M305 157.5h2M307 158.5h2M309 159.5h1M310 160.5h2M312 161.5h2M314 162.5h2M316 163.5h1M317 164.5h2M319 165.5h2M321 166.5h1M322 167.5h2M324 168.5h2M326 169.5h2M328 170.5h1M329 171.5h2M331 172.5h2M333 173.5h2M335 174.5h1M336 175.5h2M338 176.5h2M340 177.5h2M342 178.5h1M343 179.5h2M345 180.5h2M347 181.5h1M348 182.5h2M350 183.5h2M352 184.5h2M354 185.5h1M355 186.5h2M357 187.5h2M359 188.5h2M361 189.5h1M362 190.5h2M364 191.5h2M366 192.5h2M368 193.5h1M369 194.5h2M371 195.5h2M373 196.5h1M374 197.5h2M376 198.5h2M378 199.5h2M380 200.5h1M381 201.5h2M383 202.5h2M385 203.5h2M387 204.5h1M388 205.5h2M390 206.5h2M392 207.5h2M394 208.5h1M395 209.5h2M397 210.5h2M399 211.5h1M400 212.5h2M402 213.5h2M404 214.5h2M406 215.5h1M407 216.5h2M409 217.5h2M411 218.5h2M413 219.5h1M414 220.5h2M416 221.5h2M418 222.5h2M420 223.5h1M421 224.5h2M423 225.5h2M425 226.5h1M426 227.5h2M428 228.5h2M430 229.5h2M432 230.5h1"/>
<path d="M71 168.5h1M72 167.5h2M74 166.5h1M75 165.5h2M77 164.5h1M78 163.5h2M80 162.5h1M81 161.5h2M83 160.5h1M84 159.5h2M86 158.5h1M87 157.5h1M88 156.5h2M90 155.5h1M91 154.5h2M93 153.5h1M94 152.5h2M96 151.5h1M97 150.5h2M99 149.5h1M100 148.5h2M102 147.5h1M103 146.5h2M105 145.5h1M106 144.5h2M108 143.5h1M109 142.5h2M111 141.5h1M112 140.5h2M114 139.5h1M115 138.5h1M116 137.5h2M118 136.5h1M119 135.5h2M121 134.5h1M122 133.5h2M124 132.5h1M125 131.5h2M127 130.5h1M128 129.5h2M130 128.5h1M131 127.5h2M133 126.5h1M134 125.5h2M136 124.5h1M137 123.5h2M139 122.5h1M140 121.5h2M142 120.5h1M143 119.5h1M144 118.5h2M146 117.5h1M147 116.5h2M149 115.5h1M150 114.5h2M152 113.5h1M153 112.5h2M155 111.5h1"/>
<path d="M155.5 111v6M154.5 117v12M153.5 129v12M152.5 141v12M151.5 153v12M150.5 165v12M149.5 177v12M148.5 189v12M147.5 201v12M146.5 213v12M145.5 225v11M144.5 236v12M143.5 248v12M142.5 260v12M141.5 272v12M140.5 284v12M139.5 296v12M138.5 308v12M137.5 320v12M136.5 332v12M135.5 344v6"/>
<path d="M23 169.5h2M25 168.5h2M27 167.5h2M29 166.5h3M32 165.5h2M34 164.5h3M37 163.5h2M39 162.5h2M41 161.5h3M44 160.5h2M46 159.5h2M48 158.5h3M51 157.5h2M53 156.5h2M55 155.5h3M58 154.5h2M60 153.5h3M63 152.5h2M65 151.5h2M67 150.5h3M70 149.5h2M72 148.5h2M74 147.5h3M77 146.5h2M79 145.5h2M81 144.5h3M84 143.5h2M86 142.5h3M89 141.5h2M91 140.5h2M93 139.5h3M96 138.5h2M98 137.5h2M100 136.5h3M103 135.5h2M105 134.5h2M107 133.5h3M110 132.5h2M112 131.5h3M115 130.5h2M117 129.5h2M119 128.5h3M122 127.5h2M124 126.5h2M126 125.5h3M129 124.5h2M131 123.5h2M133 122.5h3M136 121.5h2M138 120.5h3M141 119.5h2M143 118.5h2M145 117.5h3M148 116.5h2M150 115.5h2M152 114.5h3M155 113.5h2M157 112.5h2M159 111.5h3M162 110.5h2M164 109.5h3M167 108.5h2M169 107.5h2M171 106.5h3M174 105.5h2M176 104.5h2M178 103.5h3M181 102.5h2M183 101.5h2M185 100.5h3M188 99.5h2M190 98.5h3M193 97.5h2M195 96.5h2M197 95.5h3M200 94.5h2M202 93.5h2M204 92.5h3M207 91.5h2M209 90.5h2M211 89.5h3M214 88.5h2M216 87.5h3M219 86.5h2M221 85.5h2M223 84.5h3M226 83.5h2M228 82.5h2M230 81.5h3M233 80.5h2M235 79.5h2M237 78.5h3M240 77.5h2M242 76.5h3M245 75.5h2M247 74.5h2M249 73.5h2"/>
<path d="M242 143.5h1M243 142.5h2M245 141.5h1M246 140.5h2M248 139.5h1M249 138.5h1M250 137.5h2M252 136.5h1M253 135.5h2M255 134.5h1M256 133.5h2M258 132.5h1M259 131.5h1M260 130.5h2M262 129.5h1M263 128.5h2M265 127.5h1M266 126.5h2M268 125.5h1M269 124.5h2M271 123.5h1M272 122.5h1M273 121.5h2M275 120.5h1M276 119.5h2M278 118.5h1M279 117.5h2M281 116.5h1M282 115.5h1M283 114.5h2M285 113.5h1M286 112.5h2M288 111.5h1M289 110.5h2M291 109.5h1M292 108.5h2M294 107.5h1M295 106.5h1M296 105.5h2M298 104.5h1M299 103.5h2M301 102.5h1M302 101.5h2M304 100.5h1M305 99.5h1M306 98.5h2M308 97.5h1M309 96.5h2M311 95.5h1M312 94.5h2M314 93.5h1M315 92.5h2M317 91.5h1M318 90.5h1M319 89.5h2M321 88.5h1M322 87.5h2M324 86.5h1M325 85.5h2M327 84.5h1M328 83.5h1M329 82.5h2M331 81.5h1M332 80.5h2M334 79.5h1"/>
<path d="M428.5 81v19M429.5 100v37M430.5 137v38M431.5 175v37M432.5 212v19"/>
<path d="M93 349.5h1M94 348.5h2M96 347.5h2M98 346.5h1M99 345.5h2M101 344.5h1M102 343.5h2M104 342.5h2M106 341.5h1M107 340.5h2M109 339.5h1M110 338.5h2M112 337.5h2M114 336.5h1M115 335.5h2M117 334.5h1M118 333.5h2M120 332.5h2M122 331.5h1M123 330.5h2M125 329.5h1M126 328.5h2M128 327.5h2M130 326.5h1M131 325.5h2M133 324.5h1M134 323.5h2M136 322.5h2M138 321.5h1M139 320.5h2M141 319.5h2M143 318.5h1M144 317.5h2M146 316.5h1M147 315.5h2M149 314.5h2M151 313.5h1M152 312.5h2M154 311.5h1M155 310.5h2M157 309.5h2M159 308.5h1M160 307.5h2M162 306.5h1M163 305.5h2M165 304.5h2M167 303.5h1M168 302.5h2M170 301.5h1M171 300.5h2M173 299.5h2M175 298.5h1M176 297.5h2M178 296.5h1M179 295.5h2M181 294.5h2M183 293.5h1M184 292.5h2M186 291.5h2M188 290.5h1M189 289.5h2M191 288.5h1M192 287.5h2M194 286.5h2M196 285.5h1M197 284.5h2M199 283.5h1M200 282.5h2M202 281.5h2M204 280.5h1M205 279.5h2M207 278.5h1M208 277.5h2M210 276.5h2M212 275.5h1M213 274.5h2M215 273.5h1M216 272.5h2M218 271.5h2M220 270.5h1M221 269.5h2M223 268.5h2M225 267.5h1M226 266.5h2M228 265.5h1M229 264.5h2M231 263.5h2M233 262.5h1M234 261.5h2M236 260.5h1M237 259.5h2M239 258.5h2M241 257.5h1M242 256.5h2M244 255.5h1M245 254.5h2M247 253.5h2M249 252.5h1M250 251.5h2M252 250.5h1M253 249.5h2M255 248.5h2M257 247.5h1M258 246.5h2M260 245.5h1M261 244.5h2M263 243.5h2M265 242.5h1M266 241.5h2M268 240.5h2M270 239.5h1M271 238.5h2M273 237.5h1M274 236.5h2M276 235.5h2M278 234.5h1M279 233.5h2M281 232.5h1M282 231.5h2M284 230.5h2M286 229.5h1M287 228.5h2M289 227.5h1M290 226.5h2M292 225.5h2M294 224.5h1M295 223.5h2M297 222.5h1M298 221.5h2M300 220.5h2M302 219.5h1M303 218.5h2M305 217.5h1M306 216.5h2M308 215.5h2M310 214.5h1M311 213.5h2M313 212.5h2M315 211.5h1M316 210.5h2M318 209.5h1M319 208.5h2M321 207.5h2M323 206.5h1M324 205.5h2M326 204.5h1M327 203.5h2M329 202.5h2M331 201.5h1M332 200.5h2M334 199.5h1M335 198.5h2M337 197.5h2M339 196.5h1M340 195.5h2M342 194.5h1M343 193.5h2M345 192.5h2M347 191.5h1M348 190.5h2M350 189.5h1M351 188.5h2M353 187.5h2M355 186.5h1M356 185.5h2M358 184.5h2M360 183.5h1M361 182.5h2M363 181.5h1M364 180.5h2M366 179.5h2M368 178.5h1M369 177.5h2M371 176.5h1M372 175.5h2M374 174.5h2M376 173.5h1M377 172.5h2M379 171.5h1M380 170.5h2M382 169.5h2M384 168.5h1M385 167.5h2M387 166.5h1M388 165.5h2M390 164.5h2M392 163.5h1M393 162.5h2M395 161.5h1M396 160.5h2M398 159.5h2M400 158.5h1M401 157.5h2M403 156.5h2M405 155.5h1M406 154.5h2M408 153.5h1M409 152.5h2M411 151.5h2M413 150.5h1M414 149.5h2M416 148.5h1M417 147.5h2M419 146.5h2M421 145.5h1M422 144.5h2M424 143.5h1M425 142.5h2M427 141.5h2M429 140.5h1M430 139.5h2M432 138.5h1M433 137.5h2M435 136.5h2M437 135.5h1M438 134.5h2M440 133.5h2M442 132.5h1M443 131.5h2M445 130.5h1M446 129.5h2M448 128.5h2M450 127.5h1M451 126.5h2M453 125.5h1M454 124.5h2M456 123.5h2M458 122.5h1M459 121.5h2M461 120.5h1M462 119.5h2M464 118.5h2M466 117.5h1M467 116.5h2M469 115.5h1M470 114.5h2M472 113.5h2M474 112.5h1M475 111.5h2M477 110.5h1M478 109.5h2M480 108.5h2M482 107.5h1M483 106.5h2M485 105.5h2M487 104.5h1M488 103.5h2M490 102.5h1M491 101.5h2M493 100.5h2M495 99.5h1M496 98.5h2M498 97.5h1M499 96.5h2M501 95.5h2M503 94.5h1M504 93.5h2M506 92.5h1M507 91.5h2M509 90.5h2M511 89.5h1M512 88.5h2M514 87.5h1M515 86.5h2M517 85.5h2M519 84.5h1M520 83.5h2M522 82.5h1M523 81.5h2M525 80.5h2M527 79.5h1"/>
<path d="M433 230.5h1M434 229.5h1M435 228.5h2M437 227.5h1M438 226.5h1M439 225.5h1M440 224.5h2M442 223.5h1M443 222.5h1M444 221.5h1M445 220.5h1M446 219.5h2M448 218.5h1M449 217.5h1M450 216.5h1M451 215.5h2M453 214.5h1M454 213.5h1M455 212.5h1M456 211.5h2M458 210.5h1M459 209.5h1M460 208.5h1M461 207.5h1M462 206.5h2M464 205.5h1M465 204.5h1M466 203.5h1M467 202.5h2M469 201.5h1M470 200.5h1M471 199.5h1M472 198.5h2M474 197.5h1M475 196.5h1M476 195.5h1M477 194.5h1M478 193.5h2M480 192.5h1M481 191.5h1M482 190.5h1M483 189.5h2M485 188.5h1M486 187.5h1M487 186.5h1M488 185.5h2M490 184.5h1M491 183.5h1M492 182.5h1M493 181.5h1M494 180.5h2M496 179.5h1M497 178.5h1M498 177.5h1M499 176.5h2M501 175.5h1M502 174.5h1M503 173.5h1M504 172.5h2M506 171.5h1M507 170.5h1M508 169.5h1M509 168.5h1M510 167.5h2M512 166.5h1M513 165.5h1M514 164.5h1M515 163.5h2M517 162.5h1M518 161.5h1M519 160.5h1M520 159.5h2M522 158.5h1M523 157.5h1M524 156.5h1M525 155.5h2M527 154.5h1M528 153.5h1M529 152.5h1M530 151.5h1M531 150.5h2M533 149.5h1M534 148.5h1M535 147.5h1M536 146.5h2M538 145.5h1M539 144.5h1M540 143.5h1M541 142.5h2M543 141.5h1M544 140.5h1M545 139.5h1M546 138.5h1M547 137.5h2M549 136.5h1M550 135.5h1M551 134.5h1M552 133.5h2M554 132.5h1M555 131.5h1M556 130.5h1M557 129.5h2M559 128.5h1M560 127.5h1M561 126.5h1M562 125.5h1M563 124.5h2M565 123.5h1M566 122.5h1M567 121.5h1M568 120.5h2M570 119.5h1M571 118.5h1M572 117.5h1M573 116.5h2M575 115.5h1M576 114.5h1M577 113.5h1M578 112.5h1M579 111.5h2M581 110.5h1M582 109.5h1M583 108.5h1M584 107.5h2M586 106.5h1M587 105.5h1M588 104.5h1M589 103.5h2M591 102.5h1M592 101.5h1M593 100.5h1M594 99.5h1M595 98.5h2M597 97.5h1M598 96.5h1M599 95.5h1M600 94.5h2M602 93.5h1M603 92.5h1M604 91.5h1M605 90.5h2M607 89.5h1M608 88.5h1M609 87.5h1M610 86.5h1M611 85.5h2M613 84.5h1M614 83.5h1M615 82.5h1M616 81.5h2M618 80.5h1M619 79.5h1"/>
<path d="M93 195.5h3M96 194.5h6M102 193.5h5M107 192.5h5M112 191.5h6M118 190.5h5M123 189.5h6M129 188.5h5M134 187.5h5M139 186.5h6M145 185.5h5M150 184.5h5M155 183.5h6M161 182.5h5M166 181.5h6M172 180.5h5M177 179.5h5M182 178.5h6M188 177.5h5M193 176.5h6M199 175.5h5M204 174.5h5M209 173.5h6M215 172.5h5M220 171.5h6M226 170.5h5M231 169.5h5M236 168.5h6M242 167.5h5M247 166.5h5M252 165.5h6M258 164.5h5M263 163.5h6M269 162.5h5M274 161.5h5M279 160.5h6M285 159.5h5M290 158.5h6M296 157.5h5M301 156.5h5M306 155.5h6M312 154.5h5M317 153.5h6M323 152.5h5M328 151.5h5M333 150.5h6M339 149.5h5M344 148.5h5M349 147.5h6M355 146.5h5M360 145.5h6M366 144.5h5M371 143.5h5M376 142.5h6M382 141.5h5M387 140.5h6M393 139.5h5M398 138.5h5M403 137.5h6M409 136.5h5M414 135.5h6M420 134.5h5M425 133.5h5M430 132.5h6M436 131.5h5M441 130.5h6M447 129.5h5M452 128.5h5M457 127.5h6M463 126.5h5M468 125.5h5M473 124.5h6M479 123.5h5M484 122.5h6M490 121.5h5M495 120.5h5M500 119.5h6M506 118.5h5M511 117.5h6M517 116.5h5M522 115.5h5M527 114.5h6M533 113.5h5M538 112.5h6M544 111.5h5M549 110.5h5M554 109.5h6M560 108.5h5M565 107.5h5M570 106.5h6M576 105.5h5M581 104.5h6M587 103.5h5M592 102.5h5M597 101.5h6M603 100.5h5M608 99.5h6M614 98.5h5M619 97.5h5M624 96.5h6M630 95.5h5M635 94.5h6M641 93.5h5M646 92.5h5M651 91.5h6M657 90.5h5M662 89.5h5M667 88.5h6M673 87.5h5M678 86.5h6M684 85.5h5M689 84.5h5M694 83.5h6M700 82.5h3"/>
<path d="M251 57.5h4M255 58.5h6M261 59.5h7M268 60.5h7M275 61.5h6M281 62.5h7M288 63.5h6M294 64.5h4"/>
<path d="M335 57.5h3M338 58.5h6M344 59.5h6M350 60.5h6M356 61.5h6M362 62.5h6M368 63.5h6M374 64.5h6M380 65.5h6M386 66.5h6M392 67.5h3"/>
<path d="M428 65.5h33M461 64.5h32"/>
<path d="M527 63.5h3M530 64.5h6M536 65.5h6M542 66.5h5M547 67.5h6M553 68.5h6M559 69.5h5M564 70.5h6M570 71.5h6M576 72.5h6M582 73.5h5M587 74.5h6M593 75.5h6M599 76.5h5M604 77.5h6M610 78.5h6M616 79.5h3"/>
<path d="M619 63.5h5M624 64.5h10M634 65.5h10M644 66.5h9M653 67.5h10M663 68.5h5"/>
<path d="M215.5 66v2M216.5 68v2M217.5 70v2M218.5 72v2M219.5 74v2M220.5 76v2M221.5 78v2M222.5 80v2M223.5 82v2M224.5 84v2M225.5 86v2M226.5 88v2M227.5 90v2M228.5 92v2M229.5 94v2M230.5 96v2M231.5 98v2M232.5 100v2M233.5 102v2M234.5 104v2M235.5 106v2M236.5 108v2M237.5 110v2M238.5 112v2M239.5 114v2M240.5 116v2M241.5 118v2M242.5 120v2M243.5 122v2M244.5 124v2M245.5 126v2M246.5 128v2M247.5 130v2M248.5 132v2M249.5 134v2M250.5 136v2M251.5 138v2M252.5 140v2M253.5 142v2M254.5 144v2M255.5 146v2M256.5 148v2M257.5 150v2M258.5 152v2M259.5 154v2M260.5 156v3M261.5 159v2M262.5 161v2M263.5 163v2M264.5 165v2M265.5 167v2M266.5 169v2M267.5 171v2M268.5 173v2M269.5 175v2M270.5 177v2M271.5 179v2M272.5 181v2M273.5 183v2M274.5 185v2M275.5 187v2M276.5 189v2M277.5 191v2M278.5 193v2M279.5 195v2M280.5 197v2M281.5 199v2M282.5 201v2M283.5 203v2M284.5 205v2M285.5 207v2M286.5 209v2M287.5 211v2M288.5 213v2M289.5 215v2M290.5 217v2M291.5 219v2M292.5 221v2M293.5 223v2M294.5 225v2M295.5 227v2M296.5 229v2M297.5 231v2M298.5 233v2M299.5 235v2M300.5 237v2M301.5 239v2M302.5 241v2M303.5 243v2M304.5 245v2M305.5 247v2"/>
<path d="M297.5 64v1M296.5 65v2M295.5 67v2M294.5 69v2M293.5 71v2M292.5 73v2M291.5 75v2M290.5 77v1M289.5 78v2M288.5 80v2M287.5 82v2M286.5 84v2M285.5 86v2M284.5 88v2M283.5 90v1M282.5 91v2M281.5 93v2M280.5 95v2M279.5 97v2M278.5 99v2M277.5 101v1M276.5 102v2M275.5 104v2M274.5 106v2M273.5 108v2M272.5 110v2M271.5 112v2M270.5 114v1M269.5 115v2M268.5 117v2M267.5 119v2M266.5 121v2M265.5 123v2M264.5 125v2M263.5 127v1M262.5 128v2M261.5 130v2M260.5 132v2M259.5 134v2M258.5 136v2M257.5 138v2M256.5 140v1M255.5 141v2M254.5 143v2M253.5 145v2M252.5 147v2M251.5 149v2M250.5 151v1M249.5 152v2M248.5 154v2M247.5 156v2M246.5 158v2M245.5 160v2M244.5 162v2M243.5 164v1"/>
<path d="M297.5 64v4M298.5 68v8M299.5 76v7M300.5 83v8M301.5 91v4"/>
<path d="M297.5 64v1M298.5 65v2M299.5 67v2M300.5 69v2M301.5 71v2M302.5 73v2M303.5 75v2M304.5 77v2M305.5 79v2M306.5 81v1M307.5 82v2M308.5 84v2M309.5 86v2M310.5 88v2M311.5 90v2M312.5 92v2M313.5 94v2M314.5 96v2M315.5 98v1M316.5 99v2M317.5 101v2M318.5 103v2M319.5 105v2M320.5 107v2M321.5 109v2M322.5 111v2M323.5 113v2M324.5 115v1M325.5 116v2M326.5 118v2M327.5 120v2M328.5 122v2M329.5 124v2M330.5 126v2M331.5 128v2M332.5 130v2M333.5 132v1M334.5 133v2M335.5 135v2M336.5 137v2M337.5 139v2M338.5 141v2M339.5 143v2M340.5 145v2M341.5 147v2M342.5 149v1M343.5 150v2M344.5 152v2M345.5 154v2M346.5 156v2M347.5 158v2M348.5 160v2M349.5 162v2M350.5 164v2M351.5 166v1"/>
<path d="M297.5 64v1M298.5 65v1M299.5 66v2M300.5 68v1M301.5 69v1M302.5 70v1M303.5 71v2M304.5 73v1M305.5 74v1M306.5 75v1M307.5 76v2M308.5 78v1M309.5 79v1M310.5 80v2M311.5 82v1M312.5 83v1M313.5 84v1M314.5 85v2M315.5 87v1M316.5 88v1M317.5 89v1M318.5 90v2M319.5 92v1M320.5 93v1M321.5 94v1M322.5 95v2M323.5 97v1M324.5 98v1M325.5 99v1M326.5 100v2M327.5 102v1M328.5 103v1M329.5 104v1M330.5 105v2M331.5 107v1M332.5 108v1M333.5 109v1M334.5 110v2M335.5 112v1M336.5 113v1M337.5 114v2M338.5 116v1M339.5 117v1M340.5 118v1M341.5 119v2M342.5 121v1M343.5 122v1M344.5 123v1M345.5 124v2M346.5 126v1M347.5 127v1M348.5 128v1M349.5 129v2M350.5 131v1M351.5 132v1M352.5 133v1M353.5 134v2M354.5 136v1M355.5 137v1M356.5 138v1M357.5 139v2M358.5 141v1M359.5 142v1M360.5 143v1M361.5 144v2M362.5 146v1M363.5 147v1M364.5 148v2M365.5 150v1M366.5 151v1M367.5 152v1M368.5 153v2M369.5 155v1M370.5 156v1M371.5 157v1M372.5 158v2M373.5 160v1M374.5 161v1"/>
<path d="M394.5 67v8M395.5 75v16M396.5 91v15M397.5 106v15M398.5 121v16M399.5 137v15M400.5 152v16M401.5 168v15M402.5 183v16M403.5 199v15M404.5 214v15M405.5 229v16M406.5 245v8"/>
<path d="M394 67.5h1M395 68.5h2M397 69.5h2M399 70.5h2M401 71.5h1M402 72.5h2M404 73.5h2M406 74.5h2M408 75.5h1M409 76.5h2M411 77.5h2M413 78.5h2M415 79.5h1M416 80.5h2M418 81.5h2M420 82.5h2M422 83.5h1M423 84.5h2M425 85.5h2M427 86.5h2M429 87.5h1M430 88.5h2M432 89.5h2M434 90.5h2M436 91.5h1M437 92.5h2M439 93.5h2M441 94.5h2M443 95.5h1M444 96.5h2M446 97.5h2M448 98.5h2M450 99.5h2M452 100.5h1M453 101.5h2M455 102.5h2M457 103.5h2M459 104.5h1M460 105.5h2M462 106.5h2M464 107.5h2M466 108.5h1M467 109.5h2M469 110.5h2M471 111.5h2M473 112.5h1M474 113.5h2M476 114.5h2M478 115.5h2M480 116.5h1M481 117.5h2M483 118.5h2M485 119.5h2M487 120.5h1M488 121.5h2M490 122.5h2M492 123.5h2M494 124.5h1M495 125.5h2M497 126.5h2M499 127.5h2M501 128.5h1M502 129.5h2M504 130.5h2M506 131.5h2M508 132.5h1M509 133.5h2M511 134.5h2M513 135.5h2M515 136.5h1M516 137.5h2M518 138.5h2M520 139.5h2M522 140.5h1M523 141.5h2M525 142.5h2M527 143.5h2M529 144.5h1M530 145.5h2M532 146.5h2M534 147.5h2M536 148.5h1M537 149.5h2M539 150.5h2M541 151.5h2M543 152.5h1M544 153.5h2M546 154.5h2M548 155.5h2M550 156.5h2M552 157.5h1M553 158.5h2M555 159.5h2M557 160.5h2M559 161.5h1M560 162.5h2M562 163.5h2M564 164.5h2M566 165.5h1M567 166.5h2M569 167.5h2M571 168.5h2M573 169.5h1M574 170.5h2M576 171.5h2M578 172.5h2M580 173.5h1M581 174.5h2M583 175.5h2M585 176.5h2M587 177.5h1M588 178.5h2M590 179.5h2M592 180.5h2M594 181.5h1M595 182.5h2M597 183.5h2M599 184.5h2M601 185.5h1M602 186.5h2M604 187.5h2M606 188.5h2M608 189.5h1M609 190.5h2M611 191.5h2M613 192.5h2M615 193.5h1M616 194.5h2M618 195.5h2M620 196.5h2M622 197.5h1M623 198.5h2M625 199.5h2M627 200.5h2M629 201.5h1M630 202.5h2M632 203.5h2M634 204.5h2M636 205.5h1M637 206.5h2M639 207.5h2M641 208.5h2M643 209.5h1M644 210.5h2M646 211.5h2M648 212.5h2M650 213.5h2M652 214.5h1M653 215.5h2M655 216.5h2M657 217.5h2M659 218.5h1M660 219.5h2M662 220.5h2M664 221.5h2M666 222.5h1M667 223.5h2M669 224.5h2M671 225.5h2M673 226.5h1M674 227.5h2M676 228.5h2M678 229.5h2M680 230.5h1M681 231.5h2M683 232.5h2M685 233.5h2M687 234.5h1M688 235.5h2M690 236.5h2M692 237.5h2M694 238.5h1M695 239.5h2M697 240.5h2M699 241.5h2M701 242.5h1"/>
<path d="M135 349.5h1M136 348.5h1M137 347.5h2M139 346.5h1M140 345.5h1M141 344.5h1M142 343.5h2M144 342.5h1M145 341.5h1M146 340.5h1M147 339.5h2M149 338.5h1M150 337.5h1M151 336.5h1M152 335.5h2M154 334.5h1M155 333.5h1M156 332.5h1M157 331.5h2M159 330.5h1M160 329.5h1M161 328.5h1M162 327.5h2M164 326.5h1M165 325.5h1M166 324.5h1M167 323.5h2M169 322.5h1M170 321.5h1M171 320.5h1M172 319.5h2M174 318.5h1M175 317.5h1M176 316.5h1M177 315.5h2M179 314.5h1M180 313.5h1M181 312.5h1M182 311.5h2M184 310.5h1M185 309.5h1M186 308.5h1M187 307.5h2M189 306.5h1M190 305.5h1M191 304.5h1M192 303.5h2M194 302.5h1M195 301.5h1M196 300.5h2M198 299.5h1M199 298.5h1M200 297.5h1M201 296.5h2M203 295.5h1M204 294.5h1M205 293.5h1M206 292.5h2M208 291.5h1M209 290.5h1M210 289.5h1M211 288.5h2M213 287.5h1M214 286.5h1M215 285.5h1M216 284.5h2M218 283.5h1M219 282.5h1M220 281.5h1M221 280.5h2M223 279.5h1M224 278.5h1M225 277.5h1M226 276.5h2M228 275.5h1M229 274.5h1M230 273.5h1M231 272.5h2M233 271.5h1M234 270.5h1M235 269.5h1M236 268.5h2M238 267.5h1M239 266.5h1M240 265.5h1M241 264.5h2M243 263.5h1M244 262.5h1M245 261.5h1M246 260.5h2M248 259.5h1M249 258.5h1M250 257.5h1M251 256.5h2M253 255.5h1M254 254.5h1M255 253.5h1M256 252.5h2M258 251.5h1M259 250.5h1M260 249.5h1M261 248.5h2M263 247.5h1M264 246.5h1M265 245.5h1M266 244.5h2M268 243.5h1M269 242.5h1M270 241.5h1M271 240.5h2M273 239.5h1M274 238.5h1M275 237.5h1M276 236.5h2M278 235.5h1M279 234.5h1M280 233.5h1M281 232.5h2M283 231.5h1M284 230.5h1M285 229.5h1M286 228.5h2M288 227.5h1M289 226.5h1M290 225.5h1M291 224.5h2M293 223.5h1M294 222.5h1M295 221.5h1M296 220.5h2M298 219.5h1M299 218.5h1M300 217.5h1M301 216.5h2M303 215.5h1M304 214.5h1M305 213.5h1M306 212.5h2M308 211.5h1M309 210.5h1M310 209.5h1M311 208.5h2M313 207.5h1M314 206.5h1M315 205.5h2M317 204.5h1M318 203.5h1M319 202.5h1M320 201.5h2M322 200.5h1M323 199.5h1M324 198.5h1M325 197.5h2M327 196.5h1M328 195.5h1M329 194.5h1M330 193.5h2M332 192.5h1M333 191.5h1M334 190.5h1M335 189.5h2M337 188.5h1M338 187.5h1M339 186.5h1M340 185.5h2M342 184.5h1M343 183.5h1M344 182.5h1M345 181.5h2M347 180.5h1M348 179.5h1M349 178.5h1M350 177.5h2M352 176.5h1M353 175.5h1M354 174.5h1M355 173.5h2M357 172.5h1M358 171.5h1M359 170.5h1M360 169.5h2M362 168.5h1M363 167.5h1M364 166.5h1M365 165.5h2M367 164.5h1M368 163.5h1M369 162.5h1M370 161.5h2M372 160.5h1M373 159.5h1M374 158.5h1M375 157.5h2M377 156.5h1M378 155.5h1M379 154.5h1M380 153.5h2M382 152.5h1M383 151.5h1M384 150.5h1M385 149.5h2M387 148.5h1M388 147.5h1M389 146.5h1M390 145.5h2M392 144.5h1M393 143.5h1M394 142.5h1M395 141.5h2M397 140.5h1M398 139.5h1M399 138.5h1M400 137.5h2M402 136.5h1M403 135.5h1M404 134.5h1M405 133.5h2M407 132.5h1M408 131.5h1M409 130.5h1M410 129.5h2M412 128.5h1M413 127.5h1M414 126.5h1M415 125.5h2M417 124.5h1M418 123.5h1M419 122.5h1M420 121.5h2M422 120.5h1M423 119.5h1M424 118.5h1M425 117.5h2M427 116.5h1M428 115.5h1M429 114.5h1M430 113.5h2M432 112.5h1M433 111.5h1M434 110.5h2M436 109.5h1M437 108.5h1M438 107.5h1M439 106.5h2M441 105.5h1M442 104.5h1M443 103.5h1M444 102.5h2M446 101.5h1M447 100.5h1M448 99.5h1M449 98.5h2M451 97.5h1M452 96.5h1M453 95.5h1M454 94.5h2M456 93.5h1M457 92.5h1M458 91.5h1M459 90.5h2M461 89.5h1M462 88.5h1M463 87.5h1M464 86.5h2M466 85.5h1M467 84.5h1M468 83.5h1M469 82.5h2M471 81.5h1M472 80.5h1M473 79.5h1M474 78.5h2M476 77.5h1M477 76.5h1M478 75.5h1M479 74.5h2M481 73.5h1M482 72.5h1M483 71.5h1M484 70.5h2M486 69.5h1M487 68.5h1M488 67.5h1M489 66.5h2M491 65.5h1M492 64.5h1"/>
<path d="M492.5 64v2M493.5 66v3M494.5 69v3M495.5 72v3M496.5 75v2M497.5 77v3M498.5 80v3M499.5 83v3M500.5 86v3M501.5 89v3M502.5 92v3M503.5 95v2M504.5 97v3M505.5 100v3M506.5 103v3M507.5 106v3M508.5 109v3M509.5 112v3M510.5 115v3M511.5 118v2M512.5 120v3M513.5 123v3M514.5 126v3M515.5 129v3M516.5 132v3M517.5 135v3M518.5 138v2M519.5 140v3M520.5 143v3M521.5 146v3M522.5 149v3M523.5 152v3M524.5 155v3M525.5 158v3M526.5 161v2M527.5 163v3M528.5 166v3M529.5 169v3M530.5 172v3M531.5 175v3M532.5 178v3M533.5 181v2M534.5 183v3M535.5 186v3M536.5 189v3M537.5 192v3M538.5 195v3M539.5 198v3M540.5 201v3M541.5 204v2M542.5 206v3M543.5 209v3M544.5 212v3M545.5 215v3M546.5 218v3M547.5 221v3M548.5 224v2M549.5 226v3M550.5 229v3M551.5 232v3M552.5 235v3M553.5 238v3M554.5 241v3M555.5 244v2M556.5 246v3M557.5 249v3M558.5 252v3M559.5 255v3M560.5 258v3M561.5 261v3M562.5 264v3M563.5 267v2M564.5 269v3M565.5 272v3M566.5 275v3M567.5 278v3M568.5 281v3M569.5 284v3M570.5 287v2M571.5 289v3M572.5 292v3M573.5 295v3M574.5 298v3M575.5 301v3M576.5 304v3M577.5 307v3M578.5 310v2M579.5 312v3M580.5 315v3M581.5 318v3M582.5 321v3M583.5 324v3M584.5 327v3M585.5 330v2M586.5 332v3M587.5 335v3M588.5 338v3M589.5 341v3M590.5 344v3M591.5 347v3M592.5 350v3M593.5 353v2M594.5 355v3M595.5 358v3M596.5 361v3M597.5 364v3M598.5 367v3M599.5 370v3M600.5 373v2M601.5 375v3M602.5 378v3M603.5 381v3M604.5 384v2"/>
<path d="M582.5 67v11M581.5 78v21M580.5 99v20M579.5 119v21M578.5 140v21M577.5 161v21M576.5 182v21M575.5 203v20M574.5 223v21M573.5 244v21M572.5 265v21M571.5 286v20M570.5 306v21M569.5 327v11"/>
<path d="M135 349.5h1M136 348.5h2M138 347.5h1M139 346.5h2M141 345.5h2M143 344.5h1M144 343.5h2M146 342.5h1M147 341.5h2M149 340.5h2M151 339.5h1M152 338.5h2M154 337.5h1M155 336.5h2M157 335.5h1M158 334.5h2M160 333.5h2M162 332.5h1M163 331.5h2M165 330.5h1M166 329.5h2M168 328.5h2M170 327.5h1M171 326.5h2M173 325.5h1M174 324.5h2M176 323.5h2M178 322.5h1M179 321.5h2M181 320.5h1M182 319.5h2M184 318.5h1M185 317.5h2M187 316.5h2M189 315.5h1M190 314.5h2M192 313.5h1M193 312.5h2M195 311.5h2M197 310.5h1M198 309.5h2M200 308.5h1M201 307.5h2M203 306.5h1M204 305.5h2M206 304.5h2M208 303.5h1M209 302.5h2M211 301.5h1M212 300.5h2M214 299.5h2M216 298.5h1M217 297.5h2M219 296.5h1M220 295.5h2M222 294.5h1M223 293.5h2M225 292.5h2M227 291.5h1M228 290.5h2M230 289.5h1M231 288.5h2M233 287.5h2M235 286.5h1M236 285.5h2M238 284.5h1M239 283.5h2M241 282.5h1M242 281.5h2M244 280.5h2M246 279.5h1M247 278.5h2M249 277.5h1M250 276.5h2M252 275.5h2M254 274.5h1M255 273.5h2M257 272.5h1M258 271.5h2M260 270.5h2M262 269.5h1M263 268.5h2M265 267.5h1M266 266.5h2M268 265.5h1M269 264.5h2M271 263.5h2M273 262.5h1M274 261.5h2M276 260.5h1M277 259.5h2M279 258.5h2M281 257.5h1M282 256.5h2M284 255.5h1M285 254.5h2M287 253.5h1M288 252.5h2M290 251.5h2M292 250.5h1M293 249.5h2M295 248.5h1M296 247.5h2M298 246.5h2M300 245.5h1M301 244.5h2M303 243.5h1M304 242.5h2M306 241.5h1M307 240.5h2M309 239.5h2M311 238.5h1M312 237.5h2M314 236.5h1M315 235.5h2M317 234.5h2M319 233.5h1M320 232.5h2M322 231.5h1M323 230.5h2M325 229.5h2M327 228.5h1M328 227.5h2M330 226.5h1M331 225.5h2M333 224.5h1M334 223.5h2M336 222.5h2M338 221.5h1M339 220.5h2M341 219.5h1M342 218.5h2M344 217.5h2M346 216.5h1M347 215.5h2M349 214.5h1M350 213.5h2M352 212.5h1M353 211.5h2M355 210.5h2M357 209.5h1M358 208.5h2M360 207.5h1M361 206.5h2M363 205.5h2M365 204.5h1M366 203.5h2M368 202.5h1M369 201.5h2M371 200.5h1M372 199.5h2M374 198.5h2M376 197.5h1M377 196.5h2M379 195.5h1M380 194.5h2M382 193.5h2M384 192.5h1M385 191.5h2M387 190.5h1M388 189.5h2M390 188.5h1M391 187.5h2M393 186.5h2M395 185.5h1M396 184.5h2M398 183.5h1M399 182.5h2M401 181.5h2M403 180.5h1M404 179.5h2M406 178.5h1M407 177.5h2M409 176.5h2M411 175.5h1M412 174.5h2M414 173.5h1M415 172.5h2M417 171.5h1M418 170.5h2M420 169.5h2M422 168.5h1M423 167.5h2M425 166.5h1M426 165.5h2M428 164.5h2M430 163.5h1M431 162.5h2M433 161.5h1M434 160.5h2M436 159.5h1M437 158.5h2M439 157.5h2M441 156.5h1M442 155.5h2M444 154.5h1M445 153.5h2M447 152.5h2M449 151.5h1M450 150.5h2M452 149.5h1M453 148.5h2M455 147.5h1M456 146.5h2M458 145.5h2M460 144.5h1M461 143.5h2M463 142.5h1M464 141.5h2M466 140.5h2M468 139.5h1M469 138.5h2M471 137.5h1M472 136.5h2M474 135.5h2M476 134.5h1M477 133.5h2M479 132.5h1M480 131.5h2M482 130.5h1M483 129.5h2M485 128.5h2M487 127.5h1M488 126.5h2M490 125.5h1M491 124.5h2M493 123.5h2M495 122.5h1M496 121.5h2M498 120.5h1M499 119.5h2M501 118.5h1M502 117.5h2M504 116.5h2M506 115.5h1M507 114.5h2M509 113.5h1M510 112.5h2M512 111.5h2M514 110.5h1M515 109.5h2M517 108.5h1M518 107.5h2M520 106.5h1M521 105.5h2M523 104.5h2M525 103.5h1M526 102.5h2M528 101.5h1M529 100.5h2M531 99.5h2M533 98.5h1M534 97.5h2M536 96.5h1M537 95.5h2M539 94.5h1M540 93.5h2M542 92.5h2M544 91.5h1M545 90.5h2M547 89.5h1M548 88.5h2M550 87.5h2M552 86.5h1M553 85.5h2M555 84.5h1M556 83.5h2M558 82.5h2M560 81.5h1M561 80.5h2M563 79.5h1M564 78.5h2M566 77.5h1M567 76.5h2M569 75.5h2M571 74.5h1M572 73.5h2M574 72.5h1M575 71.5h2M577 70.5h2M579 69.5h1M580 68.5h2M582 67.5h1"/>
<path d="M582.5 67v1M581.5 68v1M580.5 69v2M579.5 71v1M578.5 72v1M577.5 73v1M576.5 74v2M575.5 76v1M574.5 77v1M573.5 78v1M572.5 79v1M571.5 80v2M570.5 82v1M569.5 83v1M568.5 84v1M567.5 85v2M566.5 87v1M565.5 88v1M564.5 89v1M563.5 90v2M562.5 92v1M561.5 93v1M560.5 94v1M559.5 95v2M558.5 97v1M557.5 98v1M556.5 99v1M555.5 100v1M554.5 101v2M553.5 103v1M552.5 104v1M551.5 105v1M550.5 106v2M549.5 108v1M548.5 109v1M547.5 110v1M546.5 111v2M545.5 113v1M544.5 114v1M543.5 115v1M542.5 116v1M541.5 117v2M540.5 119v1M539.5 120v1M538.5 121v1M537.5 122v2M536.5 124v1M535.5 125v1M534.5 126v1M533.5 127v2M532.5 129v1M531.5 130v1M530.5 131v1M529.5 132v2M528.5 134v1M527.5 135v1M526.5 136v1M525.5 137v1M524.5 138v2M523.5 140v1M522.5 141v1M521.5 142v1M520.5 143v2M519.5 145v1M518.5 146v1M517.5 147v1M516.5 148v2M515.5 150v1M514.5 151v1M513.5 152v1M512.5 153v2M511.5 155v1M510.5 156v1M509.5 157v1M508.5 158v1M507.5 159v2M506.5 161v1M505.5 162v1M504.5 163v1M503.5 164v2M502.5 166v1M501.5 167v1M500.5 168v1M499.5 169v2M498.5 171v1M497.5 172v1M496.5 173v1M495.5 174v1M494.5 175v2M493.5 177v1M492.5 178v1M491.5 179v1M490.5 180v2M489.5 182v1M488.5 183v1M487.5 184v1M486.5 185v2M485.5 187v1M484.5 188v1M483.5 189v1M482.5 190v2M481.5 192v1M480.5 193v1M479.5 194v1M478.5 195v1M477.5 196v2M476.5 198v1M475.5 199v1M474.5 200v1M473.5 201v2M472.5 203v1M471.5 204v1M470.5 205v1M469.5 206v2M468.5 208v1M467.5 209v1M466.5 210v1M465.5 211v2M464.5 213v1M463.5 214v1M462.5 215v1M461.5 216v1M460.5 217v2M459.5 219v1M458.5 220v1M457.5 221v1M456.5 222v2M455.5 224v1M454.5 225v1M453.5 226v1M452.5 227v2M451.5 229v1M450.5 230v1M449.5 231v1M448.5 232v1M447.5 233v2M446.5 235v1M445.5 236v1M444.5 237v1M443.5 238v2M442.5 240v1M441.5 241v1M440.5 242v1M439.5 243v2M438.5 245v1M437.5 246v1M436.5 247v1M435.5 248v2M434.5 250v1M433.5 251v1M432.5 252v1M431.5 253v1M430.5 254v2M429.5 256v1M428.5 257v1M427.5 258v1M426.5 259v2M425.5 261v1M424.5 262v1M423.5 263v1M422.5 264v2M421.5 266v1M420.5 267v1M419.5 268v1M418.5 269v2M417.5 271v1M416.5 272v1M415.5 273v1M414.5 274v1M413.5 275v2M412.5 277v1M411.5 278v1M410.5 279v1M409.5 280v2M408.5 282v1M407.5 283v1M406.5 284v1M405.5 285v2M404.5 287v1M403.5 288v1M402.5 289v1M401.5 290v1M400.5 291v2M399.5 293v1M398.5 294v1M397.5 295v1M396.5 296v2M395.5 298v1M394.5 299v1"/>
<path d="M305 248.5h2M307 247.5h2M309 246.5h2M311 245.5h2M313 244.5h2M315 243.5h2M317 242.5h2M319 241.5h2M321 240.5h2M323 239.5h2M325 238.5h2M327 237.5h2M329 236.5h2M331 235.5h2M333 234.5h2M335 233.5h2M337 232.5h2M339 231.5h2M341 230.5h2M343 229.5h2M345 228.5h2M347 227.5h2M349 226.5h2M351 225.5h2M353 224.5h2M355 223.5h2M357 222.5h2M359 221.5h2M361 220.5h2M363 219.5h2M365 218.5h2M367 217.5h2M369 216.5h2M371 215.5h2M373 214.5h2M375 213.5h2M377 212.5h2M379 211.5h2M381 210.5h2M383 209.5h2M385 208.5h2M387 207.5h2M389 206.5h2M391 205.5h2M393 204.5h2M395 203.5h2M397 202.5h2M399 201.5h2M401 200.5h2M403 199.5h2M405 198.5h2M407 197.5h2M409 196.5h2M411 195.5h2M413 194.5h2M415 193.5h2M417 192.5h2M419 191.5h2M421 190.5h2M423 189.5h2M425 188.5h2M427 187.5h2M429 186.5h2M431 185.5h2M433 184.5h2M435 183.5h2M437 182.5h2M439 181.5h2M441 180.5h2M443 179.5h2M445 178.5h2M447 177.5h2M449 176.5h2M451 175.5h2M453 174.5h2M455 173.5h2M457 172.5h2M459 171.5h2M461 170.5h2M463 169.5h2M465 168.5h2M467 167.5h2M469 166.5h2M471 165.5h2M473 164.5h2M475 163.5h2M477 162.5h2M479 161.5h2M481 160.5h2M483 159.5h2M485 158.5h3M488 157.5h2M490 156.5h2M492 155.5h2M494 154.5h2M496 153.5h2M498 152.5h2M500 151.5h2M502 150.5h2M504 149.5h2M506 148.5h2M508 147.5h2M510 146.5h2M512 145.5h2M514 144.5h2M516 143.5h2M518 142.5h2M520 141.5h2M522 140.5h2M524 139.5h2M526 138.5h2M528 137.5h2M530 136.5h2M532 135.5h2M534 134.5h2M536 133.5h2M538 132.5h2M540 131.5h2M542 130.5h2M544 129.5h2M546 128.5h2M548 127.5h2M550 126.5h2M552 125.5h2M554 124.5h2M556 123.5h2M558 122.5h2M560 121.5h2M562 120.5h2M564 119.5h2M566 118.5h2M568 117.5h2M570 116.5h2M572 115.5h2M574 114.5h2M576 113.5h2M578 112.5h2M580 111.5h2M582 110.5h2M584 109.5h2M586 108.5h2M588 107.5h2M590 106.5h2M592 105.5h2M594 104.5h2M596 103.5h2M598 102.5h2M600 101.5h2M602 100.5h2M604 99.5h2M606 98.5h2M608 97.5h2M610 96.5h2M612 95.5h2M614 94.5h2M616 93.5h2M618 92.5h2M620 91.5h2M622 90.5h2M624 89.5h2M626 88.5h2M628 87.5h2M630 86.5h2M632 85.5h2M634 84.5h2M636 83.5h2M638 82.5h2M640 81.5h2M642 80.5h2M644 79.5h2M646 78.5h2M648 77.5h2M650 76.5h2M652 75.5h2M654 74.5h2M656 73.5h2M658 72.5h2M660 71.5h2M662 70.5h2M664 69.5h2M666 68.5h2"/>
<path d="M303 119.5h1M304 118.5h2M306 117.5h2M308 116.5h1M309 115.5h2M311 114.5h2M313 113.5h1M314 112.5h2M316 111.5h1M317 110.5h2M319 109.5h2M321 108.5h1M322 107.5h2M324 106.5h2M326 105.5h1"/>
<path d="M325 108.5h2M327 107.5h2M329 106.5h2M331 105.5h2M333 104.5h2M335 103.5h2M337 102.5h2M339 101.5h2M341 100.5h1"/>
<path d="M346 101.5h1M347 102.5h1M348 103.5h2M350 104.5h1M351 105.5h1M352 106.5h1M353 107.5h1M354 108.5h2M356 109.5h1M357 110.5h1"/>
<path d="M346 110.5h1M347 109.5h1M348 108.5h2M350 107.5h1M351 106.5h1M352 105.5h1M353 104.5h1M354 103.5h2M356 102.5h1M357 101.5h1"/>
<path d="M23.5 169v1M24.5 170v1M25.5 171v1M26.5 172v1M27.5 173v1M28.5 174v1M29.5 175v1M30.5 176v1M31.5 177v1M32.5 178v1M33.5 179v1M34.5 180v2M35.5 182v1M36.5 183v1M37.5 184v1M38.5 185v1M39.5 186v1M40.5 187v1M41.5 188v1M42.5 189v1M43.5 190v1M44.5 191v1M45.5 192v1M46.5 193v1M47.5 194v1M48.5 195v1M49.5 196v1M50.5 197v1M51.5 198v1M52.5 199v1M53.5 200v1M54.5 201v1M55.5 202v1M56.5 203v2M57.5 205v1M58.5 206v1M59.5 207v1M60.5 208v1M61.5 209v1M62.5 210v1M63.5 211v1M64.5 212v1M65.5 213v1M66.5 214v1M67.5 215v1M68.5 216v1M69.5 217v1M70.5 218v1M71.5 219v1M72.5 220v1M73.5 221v1M74.5 222v1M75.5 223v1M76.5 224v1M77.5 225v1M78.5 226v2M79.5 228v1M80.5 229v1M81.5 230v1M82.5 231v1M83.5 232v1M84.5 233v1M85.5 234v1M86.5 235v1M87.5 236v1M88.5 237v1M89.5 238v1M90.5 239v1M91.5 240v1M92.5 241v1M93.5 242v1M94.5 243v1M95.5 244v1M96.5 245v1M97.5 246v1M98.5 247v1M99.5 248v1M100.5 249v1M101.5 250v2M102.5 252v1M103.5 253v1M104.5 254v1M105.5 255v1M106.5 256v1M107.5 257v1M108.5 258v1M109.5 259v1M110.5 260v1M111.5 261v1M112.5 262v1M113.5 263v1M114.5 264v1M115.5 265v1M116.5 266v1M117.5 267v1M118.5 268v1M119.5 269v1M120.5 270v1M121.5 271v1M122.5 272v1M123.5 273v2M124.5 275v1M125.5 276v1M126.5 277v1M127.5 278v1M128.5 279v1M129.5 280v1M130.5 281v1M131.5 282v1M132.5 283v1M133.5 284v1M134.5 285v1"/>
<path d="M71.5 168v1M72.5 169v2M73.5 171v2M74.5 173v2M75.5 175v2M76.5 177v2M77.5 179v2M78.5 181v1M79.5 182v2M80.5 184v2M81.5 186v2M82.5 188v2M83.5 190v2M84.5 192v2M85.5 194v1M86.5 195v2M87.5 197v2M88.5 199v2M89.5 201v2M90.5 203v2M91.5 205v2M92.5 207v1M93.5 208v2M94.5 210v2M95.5 212v2M96.5 214v2M97.5 216v2M98.5 218v2M99.5 220v1M100.5 221v2M101.5 223v2M102.5 225v2M103.5 227v2M104.5 229v2M105.5 231v2M106.5 233v1M107.5 234v2M108.5 236v2M109.5 238v2M110.5 240v2M111.5 242v2M112.5 244v2M113.5 246v1M114.5 247v2M115.5 249v2M116.5 251v2M117.5 253v2M118.5 255v2M119.5 257v2M120.5 259v1M121.5 260v2M122.5 262v2M123.5 264v2M124.5 266v2M125.5 268v2M126.5 270v2M127.5 272v1M128.5 273v2M129.5 275v2M130.5 277v2M131.5 279v2M132.5 281v2M133.5 283v2M134.5 285v1"/>
<path d="M23 189.5h2M25 190.5h3M28 191.5h3M31 192.5h3M34 193.5h3M37 194.5h3M40 195.5h3M43 196.5h3M46 197.5h3M49 198.5h3M52 199.5h3M55 200.5h4M59 201.5h3M62 202.5h3M65 203.5h3M68 204.5h3M71 205.5h3M74 206.5h3M77 207.5h3M80 208.5h3M83 209.5h3M86 210.5h3M89 211.5h3M92 212.5h2"/>
<path d="M22 210.5h2M24 209.5h2M26 208.5h2M28 207.5h2M30 206.5h2M32 205.5h2M34 204.5h2M36 203.5h2M38 202.5h3M41 201.5h2M43 200.5h2M45 199.5h2M47 198.5h2M49 197.5h2M51 196.5h2M53 195.5h3M56 194.5h2M58 193.5h2M60 192.5h2M62 191.5h2M64 190.5h2M66 189.5h2M68 188.5h2M70 187.5h2"/>
<path d="M23.5 186v42"/>
<path d="M22.5 208v41"/>
<path d="M243.5 160v27"/>
<path d="M298.5 145v1M297.5 146v1M296.5 147v1M295.5 148v1M294.5 149v1M293.5 150v1M292.5 151v1M291.5 152v2M290.5 154v1M289.5 155v1M288.5 156v1M287.5 157v1M286.5 158v1M285.5 159v1M284.5 160v1M283.5 161v1M282.5 162v1M281.5 163v1M280.5 164v1M279.5 165v1M278.5 166v1M277.5 167v2M276.5 169v1M275.5 170v1M274.5 171v1M273.5 172v1M272.5 173v1M271.5 174v1M270.5 175v1M269.5 176v1M268.5 177v1M267.5 178v1M266.5 179v1M265.5 180v1M264.5 181v1M263.5 182v2M262.5 184v1M261.5 185v1M260.5 186v1M259.5 187v1M258.5 188v1M257.5 189v1M256.5 190v1M255.5 191v1M254.5 192v1M253.5 193v1M252.5 194v1M251.5 195v1M250.5 196v1M249.5 197v2M248.5 199v1M247.5 200v1M246.5 201v1M245.5 202v1M244.5 203v1M243.5 204v1M242.5 205v1"/>
<path d="M348 183.5h7M355 182.5h6"/>
<path d="M371 178.5h11M382 179.5h21M403 180.5h22M425 181.5h21M446 182.5h11"/>
<path d="M402 172.5h3M405 173.5h6M411 174.5h5M416 175.5h5M421 176.5h6M427 177.5h5M432 178.5h6M438 179.5h5M443 180.5h5M448 181.5h6M454 182.5h3"/>
<path d="M431 169.5h1M432 170.5h2M434 171.5h2M436 172.5h2M438 173.5h2M440 174.5h2M442 175.5h2M444 176.5h2M446 177.5h2M448 178.5h2M450 179.5h2M452 180.5h2M454 181.5h2M456 182.5h1"/>
<path d="M431.5 247v3M430.5 250v6M429.5 256v6M428.5 262v5M427.5 267v6M426.5 273v3"/>
<path d="M406 269.5h2M408 270.5h4M412 271.5h3M415 272.5h3M418 273.5h4M422 274.5h3M425 275.5h2"/>
<path d="M426.5 277v1M425.5 278v1M424.5 279v2M423.5 281v1M422.5 282v1M421.5 283v1M420.5 284v1M419.5 285v2M418.5 287v1M417.5 288v1M416.5 289v1M415.5 290v2M414.5 292v1M413.5 293v1M412.5 294v1M411.5 295v1M410.5 296v2M409.5 298v1M408.5 299v1M407.5 300v1M406.5 301v1M405.5 302v2M404.5 304v1M403.5 305v1M402.5 306v1M401.5 307v2M400.5 309v1M399.5 310v1M398.5 311v1M397.5 312v1M396.5 313v2M395.5 315v1M394.5 316v1"/>
<path d="M426 294.5h1M427 293.5h1M428 292.5h2M430 291.5h1M431 290.5h1M432 289.5h2M434 288.5h1M435 287.5h1M436 286.5h1M437 285.5h2M439 284.5h1M440 283.5h1M441 282.5h1M442 281.5h2M444 280.5h1M445 279.5h1M446 278.5h2M448 277.5h1M449 276.5h1M450 275.5h1M451 274.5h2M453 273.5h1M454 272.5h1M455 271.5h1M456 270.5h2M458 269.5h1M459 268.5h1M460 267.5h2M462 266.5h1M463 265.5h1M464 264.5h1M465 263.5h2M467 262.5h1M468 261.5h1M469 260.5h1M470 259.5h2M472 258.5h1M473 257.5h1M474 256.5h2M476 255.5h1M477 254.5h1M478 253.5h1M479 252.5h2M481 251.5h1M482 250.5h1M483 249.5h1M484 248.5h2M486 247.5h1M487 246.5h1M488 245.5h2M490 244.5h1M491 243.5h1"/>
<path d="M93 366.5h1M94 367.5h1M95 368.5h1M96 369.5h2M98 370.5h1M99 371.5h1M100 372.5h1M101 373.5h1M102 374.5h2M104 375.5h1M105 376.5h1M106 377.5h1M107 378.5h1M108 379.5h2M110 380.5h1M111 381.5h1M112 382.5h1M113 383.5h1M114 384.5h2M116 385.5h1M117 386.5h1M118 387.5h1M119 388.5h1M120 389.5h2M122 390.5h1M123 391.5h1M124 392.5h1M125 393.5h1M126 394.5h2M128 395.5h1M129 396.5h1M130 397.5h1"/>
<path d="M116 374.5h2M118 373.5h3M121 372.5h3M124 371.5h4M128 370.5h3M131 369.5h3M134 368.5h2"/>
<path d="M116 391.5h2M118 392.5h2M120 393.5h2M122 394.5h3M125 395.5h2M127 396.5h2M129 397.5h2"/>
<path d="M130 416.5h1M131 415.5h2M133 414.5h1M134 413.5h1M135 412.5h2M137 411.5h1M138 410.5h1M139 409.5h2M141 408.5h1M142 407.5h2M144 406.5h1M145 405.5h1M146 404.5h2M148 403.5h1M149 402.5h1M150 401.5h2M152 400.5h1M153 399.5h2M155 398.5h1M156 397.5h1M157 396.5h2M159 395.5h1M160 394.5h1M161 393.5h2M163 392.5h1M164 391.5h2M166 390.5h1M167 389.5h1M168 388.5h2M170 387.5h1M171 386.5h1M172 385.5h2M174 384.5h1M175 383.5h1M176 382.5h2M178 381.5h1M179 380.5h2M181 379.5h1M182 378.5h1M183 377.5h2M185 376.5h1M186 375.5h1M187 374.5h2M189 373.5h1M190 372.5h2M192 371.5h1M193 370.5h1M194 369.5h2M196 368.5h1M197 367.5h1M198 366.5h2M200 365.5h1"/>
<path d="M245 248.5h2M247 249.5h4M251 250.5h3M254 251.5h3M257 252.5h4M261 253.5h3M264 254.5h4M268 255.5h3M271 256.5h4M275 257.5h3M278 258.5h3M281 259.5h4M285 260.5h3M288 261.5h4M292 262.5h3M295 263.5h3M298 264.5h4M302 265.5h2"/>
<path d="M213 268.5h6M219 267.5h10M229 266.5h10M239 265.5h5"/>
<path d="M135 268.5h3M138 269.5h4M142 270.5h5M147 271.5h4M151 272.5h4M155 273.5h5M160 274.5h4M164 275.5h5M169 276.5h4M173 277.5h4M177 278.5h5M182 279.5h4M186 280.5h5M191 281.5h4M195 282.5h4M199 283.5h5M204 284.5h4M208 285.5h3"/>
<path d="M170 247.5h1M171 248.5h1M172 249.5h1M173 250.5h1M174 251.5h1M175 252.5h1M176 253.5h1M177 254.5h1M178 255.5h1M179 256.5h2M181 257.5h1M182 258.5h1M183 259.5h1M184 260.5h1M185 261.5h1M186 262.5h1M187 263.5h1M188 264.5h1M189 265.5h1M190 266.5h1M191 267.5h1M192 268.5h1M193 269.5h1M194 270.5h1M195 271.5h1M196 272.5h1M197 273.5h1M198 274.5h1M199 275.5h2M201 276.5h1M202 277.5h1M203 278.5h1M204 279.5h1M205 280.5h1M206 281.5h1M207 282.5h1M208 283.5h1M209 284.5h1M210 285.5h1"/>
<path d="M632 244.5h3M635 245.5h4M639 246.5h5M644 247.5h4M648 248.5h5M653 249.5h4M657 250.5h5M662 251.5h4M666 252.5h4M670 253.5h5M675 254.5h4M679 255.5h5M684 256.5h4M688 257.5h5M693 258.5h4M697 259.5h3"/>
<path d="M575 243.5h2M577 244.5h3M580 245.5h3M583 246.5h3M586 247.5h4M590 248.5h3M593 249.5h3M596 250.5h3M599 251.5h3M602 252.5h3M605 253.5h3M608 254.5h3M611 255.5h3M614 256.5h4M618 257.5h3M621 258.5h3M624 259.5h3M627 260.5h3M630 261.5h2"/>
<path d="M563 263.5h2M565 262.5h3M568 261.5h3M571 260.5h2"/>
<path d="M629 263.5h1M630 262.5h1M631 261.5h1"/>
<path d="M21.5 42v5"/>
<path d="M21.5 65v4"/>
<path d="M21.5 84v4"/>
<path d="M298.5 164v4"/>
<path d="M298.5 183v4"/>
<path d="M22.5 267v5"/>
<path d="M22.5 287v3"/>
<path d="M96.5 267v4"/>
<path d="M96.5 286v4"/>
<path d="M170.5 266v4"/>
<path d="M170.5 285v4"/>
<path d="M245.5 265v5"/>
<path d="M244.5 285v4"/>
<path d="M305.5 265v6"/>
<path d="M305.5 286v4"/>
<path d="M491.5 262v2M492.5 264v1"/>
<path d="M492.5 280v4"/>
<path d="M563.5 279v4"/>
<path d="M628.5 279v4"/>
<path d="M701.5 259v5"/>
<path d="M701.5 279v4"/>
<path d="M200.5 384v4"/>
<path d="M200.5 403v4"/>
<path d="M273 371.5h1M274 370.5h1M275 369.5h1M276 368.5h1M277 367.5h1M278 366.5h1M279 365.5h1M280 364.5h1M281 363.5h1M282 362.5h2M284 361.5h1M285 360.5h1M286 359.5h1M287 358.5h1M288 357.5h1M289 356.5h1M290 355.5h1M291 354.5h1M292 353.5h1M293 352.5h1"/>
<path d="M274 373.5h1M275 374.5h2M277 375.5h1M278 376.5h2M280 377.5h1M281 378.5h2M283 379.5h1M284 380.5h2M286 381.5h1M287 382.5h2M289 383.5h1M290 384.5h2M292 385.5h1M293 386.5h2M295 387.5h1M296 388.5h2M298 389.5h1M299 390.5h2M301 391.5h1M302 392.5h2M304 393.5h1M305 394.5h2M307 395.5h1M308 396.5h2M310 397.5h1M311 398.5h2M313 399.5h1M314 400.5h2M316 401.5h1M317 402.5h2M319 403.5h1"/>
<path d="M360.5 352v1M359.5 353v2M358.5 355v1M357.5 356v1M356.5 357v2M355.5 359v1M354.5 360v1M353.5 361v2M352.5 363v1M351.5 364v1M350.5 365v2M349.5 367v1M348.5 368v1M347.5 369v2M346.5 371v1"/>
<path d="M347 373.5h1M348 374.5h1M349 375.5h1M350 376.5h1M351 377.5h2M353 378.5h1M354 379.5h1M355 380.5h1M356 381.5h1M357 382.5h1M358 383.5h1M359 384.5h1M360 385.5h2M362 386.5h1M363 387.5h1M364 388.5h1M365 389.5h1M366 390.5h1M367 391.5h1M368 392.5h2M370 393.5h1M371 394.5h1M372 395.5h1M373 396.5h1M374 397.5h1M375 398.5h1M376 399.5h1M377 400.5h2M379 401.5h1M380 402.5h1M381 403.5h1M382 404.5h1"/>
<path d="M293 335.5h3M296 336.5h4M300 337.5h4M304 338.5h4M308 339.5h4M312 340.5h4M316 341.5h4M320 342.5h4M324 343.5h5M329 344.5h4M333 345.5h4M337 346.5h4M341 347.5h4M345 348.5h4M349 349.5h4M353 350.5h4M357 351.5h3"/>
<path d="M321 386.5h2M323 387.5h4M327 388.5h3M330 389.5h4M334 390.5h3M337 391.5h4M341 392.5h3M344 393.5h4M348 394.5h4M352 395.5h3M355 396.5h4M359 397.5h3M362 398.5h4M366 399.5h3M369 400.5h4M373 401.5h3M376 402.5h4M380 403.5h2"/>
<path d="M346.5 382v6"/>
<path d="M346.5 403v4"/>
<path d="M424.5 352v2M423.5 354v4M422.5 358v4M421.5 362v4M420.5 366v4M419.5 370v2"/>
<path d="M420 373.5h1M421 374.5h1M422 375.5h1M423 376.5h1M424 377.5h2M426 378.5h1M427 379.5h1M428 380.5h1M429 381.5h1M430 382.5h1M431 383.5h1M432 384.5h1M433 385.5h2M435 386.5h1M436 387.5h1M437 388.5h1M438 389.5h1M439 390.5h1M440 391.5h1M441 392.5h2M443 393.5h1M444 394.5h1M445 395.5h1M446 396.5h1M447 397.5h1M448 398.5h1M449 399.5h1M450 400.5h2M452 401.5h1M453 402.5h1M454 403.5h1M455 404.5h1"/>
<path d="M360 335.5h2M362 336.5h4M366 337.5h4M370 338.5h4M374 339.5h4M378 340.5h4M382 341.5h4M386 342.5h4M390 343.5h4M394 344.5h4M398 345.5h4M402 346.5h4M406 347.5h4M410 348.5h4M414 349.5h4M418 350.5h4M422 351.5h2"/>
<path d="M384 387.5h3M387 388.5h4M391 389.5h4M395 390.5h5M400 391.5h4M404 392.5h5M409 393.5h4M413 394.5h4M417 395.5h5M422 396.5h4M426 397.5h4M430 398.5h5M435 399.5h4M439 400.5h5M444 401.5h4M448 402.5h4M452 403.5h3"/>
<path d="M419.5 382v6"/>
<path d="M419.5 403v4"/>
<path d="M498.5 354v2M497.5 356v3M496.5 359v3M495.5 362v2M494.5 364v3M493.5 367v3M492.5 370v2"/>
<path d="M493 373.5h1M494 374.5h1M495 375.5h2M497 376.5h1M498 377.5h1M499 378.5h1M500 379.5h2M502 380.5h1M503 381.5h1M504 382.5h1M505 383.5h2M507 384.5h1M508 385.5h1M509 386.5h1M510 387.5h2M512 388.5h1M513 389.5h1M514 390.5h1M515 391.5h1M516 392.5h2M518 393.5h1M519 394.5h1M520 395.5h1M521 396.5h2M523 397.5h1M524 398.5h1M525 399.5h1M526 400.5h2M528 401.5h1M529 402.5h1"/>
<path d="M424 335.5h3M427 336.5h4M431 337.5h4M435 338.5h4M439 339.5h4M443 340.5h4M447 341.5h4M451 342.5h4M455 343.5h4M459 344.5h4M463 345.5h4M467 346.5h4M471 347.5h4M475 348.5h4M479 349.5h4M483 350.5h4M487 351.5h4M491 352.5h4M495 353.5h3"/>
<path d="M457 387.5h3M460 388.5h5M465 389.5h5M470 390.5h5M475 391.5h5M480 392.5h5M485 393.5h5M490 394.5h6M496 395.5h5M501 396.5h5M506 397.5h5M511 398.5h5M516 399.5h5M521 400.5h5M526 401.5h3"/>
<path d="M492.5 382v6"/>
<path d="M492.5 403v4"/>
<path d="M569.5 354v3M568.5 357v4M567.5 361v4M566.5 365v4M565.5 369v3"/>
<path d="M566 373.5h1M567 374.5h1M568 375.5h2M570 376.5h1M571 377.5h1M572 378.5h1M573 379.5h2M575 380.5h1M576 381.5h1M577 382.5h1M578 383.5h2M580 384.5h1M581 385.5h1M582 386.5h1M583 387.5h2M585 388.5h1M586 389.5h1M587 390.5h1M588 391.5h1M589 392.5h2M591 393.5h1M592 394.5h1M593 395.5h1M594 396.5h2M596 397.5h1M597 398.5h1M598 399.5h1M599 400.5h2M601 401.5h1M602 402.5h1"/>
<path d="M498 337.5h3M501 338.5h4M505 339.5h4M509 340.5h5M514 341.5h4M518 342.5h5M523 343.5h4M527 344.5h4M531 345.5h5M536 346.5h4M540 347.5h4M544 348.5h5M549 349.5h4M553 350.5h5M558 351.5h4M562 352.5h4M566 353.5h3"/>
<path d="M531 385.5h3M534 386.5h4M538 387.5h4M542 388.5h5M547 389.5h4M551 390.5h5M556 391.5h4M560 392.5h4M564 393.5h5M569 394.5h4M573 395.5h4M577 396.5h5M582 397.5h4M586 398.5h5M591 399.5h4M595 400.5h4M599 401.5h3"/>
<path d="M565.5 382v6"/>
<path d="M565.5 403v4"/>
<path d="M262 386.5h2M264 385.5h3M267 384.5h2M269 383.5h3M272 382.5h2"/>
<path d="M263 405.5h2M265 404.5h2M267 403.5h2M269 402.5h2M271 401.5h2M273 400.5h2M275 399.5h2M277 398.5h2M279 397.5h2M281 396.5h2M283 395.5h2M285 394.5h2M287 393.5h2M289 392.5h2M291 391.5h2M293 390.5h2M295 389.5h2M297 388.5h2M299 387.5h1"/>
<path d="M274 406.5h5M279 405.5h8M287 404.5h8M295 403.5h5"/>
</g>
</svg>
</body></html>
